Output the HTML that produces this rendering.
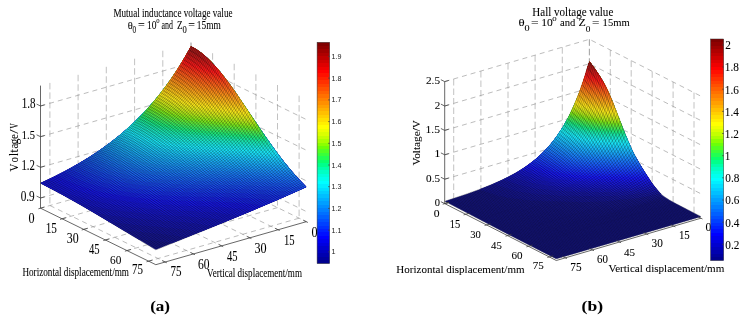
<!DOCTYPE html>
<html><head><meta charset="utf-8"><style>
html,body{margin:0;padding:0;background:#fff;width:748px;height:322px;overflow:hidden}
svg{display:block;will-change:transform}
.g{fill:none;stroke:#858585;stroke-width:0.55;stroke-dasharray:5 4}
.gv{fill:none;stroke:#8f8f8f;stroke-width:0.55;stroke-dasharray:6.5 3}
.ax{fill:none;stroke:#404040;stroke-width:0.8}
text{fill:#000;stroke:#000;stroke-width:0.06px}
</style></head><body>
<svg width="748" height="322" viewBox="0 0 748 322">
<rect width="748" height="322" fill="#fff"/>
<path class="g" d="M40.5 198L191 155L306.3 211.5M40.5 167.3L191 124.3L306.3 180.8M40.5 136.7L191 93.7L306.3 150.2M40.5 106L191 63L306.3 119.5M191 165.2L40.5 208.2M212.6 175.8L62.1 218.8M234.2 186.4L83.7 229.4M255.9 197L105.4 240M277.5 207.6L127 250.6M299.1 218.2L148.6 261.2M191 165.2L306.3 221.7M162.8 173.3L278.1 229.8M134.6 181.3L249.9 237.8M106.3 189.4L221.6 245.9M78.1 197.4L193.4 253.9M49.9 205.5L165.2 262"/><path class="gv" d="M191 42.6L191 165.2M162.8 50.7L162.8 173.3M134.6 58.7L134.6 181.3M106.3 66.8L106.3 189.4M78.1 74.8L78.1 197.4M49.9 82.9L49.9 205.5M191 42.6L191 165.2M212.6 53.2L212.6 175.8M234.2 63.8L234.2 186.4M255.9 74.4L255.9 197M277.5 85L277.5 207.6M299.1 95.6L299.1 218.2"/>
<path fill="#1a1a95" d="M191 46.4l3.5 1.8l3.4 2.2l3.5 2.6l4 3.3l3.5 3.2l4 4.1l7.5 8.6l7 8.9l7.5 10.4l28.8 42.7l13.3 18.6l6.9 9l7 8.5l7.5 8.5l7.5 7.7l.2 .5l-30.9 13.8l-36.1 15.3l-56.6 23l-26.3 10.5l-.7 0l-53.1-31.9l-19.6-11.6l-21.4-12l-20.8-10.9l15.5-7.5l11.3-5.8l11.3-6.4l11.3-6.8l10.6-7l9.8-7.1l9.8-7.8l9-7.8l9.1-8.6l8.2-8.7l8.3-9.4l7.6-9.4l7.5-10.3l7.5-11.2l6.8-11l6.8-12z"/>
<path fill="#1a1aa3" d="M172.1 243.5l-1.5-.7l-16.2-2.1l-13.4-1.3l-1.9 .6l0-.2l-32.3-19.4l-25-14.8l-20.2-11.4l-21-11.1l13.2-6.2l12.5-6.4l11.9-6.7l11.3-6.8l10.7-7.1l10.1-7.2l9.4-7.5l9.4-8.1l8.8-8.4l8.2-8.4l8.1-9.3l7.6-9.3l7.5-10.2l6.9-10.2l7.5-12.1l6.9-12.2l.6-.5l3.4 1.8l3.8 2.5l3.4 2.5l3.8 3.2l7.3 7.1l7.7 8.8l6.7 8.6l7.7 10.6l28.9 42.8l13.4 18.8l7.2 9.4l7.3 8.7l7.2 8.1l7.2 7.5l-2.3 1.1l-18.8 8.5l-32.7 14l-36.4 15.1l-43.9 17.7z"/>
<path fill="#1a1ab0" d="M186.2 237.8l-1.4-.7l-4.4-.7l-17.5-2.2l-36.4-3.5l-1.8 .6l0-.2l-21.7-13l-23.6-13.9l-18.3-10.2l-20.5-10.9l13.2-6.2l12.6-6.5l11.9-6.6l11.3-6.9l10.7-7l10.1-7.3l9.4-7.4l9.4-8.2l8.8-8.4l8.2-8.5l8.1-9.2l7.6-9.4l6.9-9.3l6.9-10.1l7.5-12.1l7.6-13.2l.5-.3l3.4 1.9l3.8 2.5l3.4 2.5l3.9 3.2l7.2 7.1l7.7 8.8l6.7 8.6l7.2 10l29.4 43.5l13 18.2l7.2 9.4l7.2 8.8l6.8 7.5l8 8.5l-23.9 10.7l-27.6 11.8l-31.4 13.1l-37.1 15z"/>
<path fill="#1a1abe" d="M200.1 232.3l-1.5-.8l-5.4-.9l-16.8-2.2l-44.6-4l-19.5-2.3l-1.9 .6l0-.2l-15.9-9.5l-20.7-12l-16.9-9.3l-16.3-8.5l14.9-7.2l11.9-6.1l12-6.7l10.7-6.5l10.6-7.1l10.1-7.3l9.4-7.5l8.8-7.7l8.8-8.3l8.2-8.5l8.2-9.2l7.5-9.4l7.6-10.2l6.9-10.2l6.3-10l8.1-14.2l.6-.6l3.4 1.8l3.8 2.5l3.4 2.5l3.8 3.2l7.3 7.1l7.7 8.8l6.7 8.6l7.2 10l29.4 43.5l13.5 18.8l7.2 9.4l7.2 8.7l7.3 8.1l7.2 7.5l-21.4 9.5l-24.5 10.6l-27.6 11.6l-32.7 13.3z"/>
<path fill="#1a1acc" d="M213.6 226.7l-1.4-.7l-3.6-.6l-15.2-2.1l-13.2-1.3l-46.3-3.7l-19.6-2.3l-17-2.8l-1.9 .5l0-.1l-10.1-6l-16.8-9.6l-14-7.6l-13.9-7.2l14.9-7.1l11.9-6.2l11.9-6.7l10.7-6.5l10.7-7.1l10-7.3l9.4-7.5l9.5-8.1l8.8-8.4l8.1-8.5l8.2-9.3l7.5-9.4l7.6-10.3l6.9-10.2l6.9-11.1l7.5-13.1l3.3 1.8l3.9 2.5l3.4 2.5l3.8 3.2l7.2 7l7.7 8.8l6.8 8.6l7.7 10.6l28.8 42.8l13.5 18.9l7.2 9.3l7.2 8.8l7.3 8.1l7.2 7.4l-.1 .4l-5.1 2.3l-29.5 13l-27 11.4l-30.8 12.7z"/>
<path fill="#1a1ad9" d="M226.9 221.3l-1.5-.7l-5.5-.9l-7.2-1l-8.6-.9l-13.7-1.1l-41.2-2.8l-23.4-2.3l-12-1.6l-11.6-1.9l-10.9-2.3l-11.2-2.7l-1.9 .5l-17.3-9.8l-20.2-10.5l.2-.3l15.7-7.5l11.3-5.9l12-6.7l10.6-6.5l10.7-7.2l10.1-7.3l9.4-7.5l8.8-7.7l8.8-8.4l8.8-9.1l8.1-9.4l7.6-9.5l7.5-10.3l6.9-10.3l6.9-11.2l6.9-12.1l3.4 1.8l3.9 2.5l3.3 2.5l3.9 3.2l7.2 7l7.7 8.8l6.7 8.6l7.7 10.6l28.9 42.7l13.5 18.9l7.2 9.4l7.2 8.8l7.2 8.1l7.2 7.4l0 .4l-28.3 12.6l-23.8 10.2l-27 11.2z"/>
<path fill="#1a1ae7" d="M239.7 216.1l-1.5-.7l-4.4-.7l-15.1-1.9l-13.9-1l-38-2l-18.7-1.3l-19.2-1.9l-17-2.4l-11.9-2.2l-12-2.7l-8.1-2.2l-8.6-2.5l-17.4-6l-1.9 .6l-11.4-6.1l13.2-6.2l12.5-6.4l12-6.7l11.3-6.8l10.6-7.1l10.1-7.3l9.4-7.4l9.5-8.2l8.7-8.3l8.2-8.5l8.2-9.3l7.5-9.3l6.9-9.3l6.9-10.2l7.6-12l7.5-13.2l.6-.4l3.3 1.9l3.9 2.4l3.4 2.5l3.8 3.3l7.2 7l7.7 8.9l6.8 8.6l7.2 10l29.4 43.4l13.4 18.9l7.3 9.3l7.2 8.8l6.7 7.5l7.7 8l-30.8 13.7l-35.8 15.1z"/>
<path fill="#1a1af5" d="M252 210.9l-1.4-.7l-10.6-1.4l-10.2-1l-15.2-1l-39.4-1.6l-19.3-1.1l-20-1.7l-18-2.4l-9.7-1.7l-9.6-2l-9.5-2.3l-8.8-2.5l-9.6-3.2l-8.8-3.3l-9.6-4.2l-2.9-1.4l0-.4l12.6-6.3l11.3-6l10.7-6.3l10.7-6.7l10-6.9l9.5-7.1l8.8-7.2l8.8-7.9l8.1-7.9l7.6-8l7.5-8.6l7.6-9.5l6.9-9.4l6.3-9.2l7.5-12.1l7.5-13.2l.6-.1l3.3 1.8l3.9 2.5l3.4 2.5l3.8 3.3l7.2 7l7.7 8.9l6.8 8.6l7.2 10l28.9 42.8l13.5 18.9l7.2 9.4l7.2 8.8l7.3 8.1l7.2 7.4l.1 .5l-13.2 5.9l-40.9 17.6z"/>
<path fill="#1a26f5" d="M263.9 205.9l-1.4-.7l-13.4-1.5l-9.8-.9l-16.5-.8l-39.8-1.2l-19.7-.8l-20.7-1.7l-18.5-2.2l-10.5-1.8l-9.8-1.9l-9.5-2.4l-9.2-2.6l-8.9-3.1l-8.1-3.3l-7.6-3.7l-3.2-1.8l0-.4l11.4-5.9l10.7-6l10-6.1l10.1-6.7l9.4-6.7l8.8-6.9l8.9-7.4l8.1-7.6l7.6-7.5l7.5-8.2l7.6-8.9l6.9-8.9l6.3-8.7l6.3-9.4l6.9-11.1l6.9-12.2l.6-.4l3.3 1.9l3.9 2.4l3.4 2.5l3.8 3.3l7.3 7.1l7.7 8.8l6.7 8.6l7.2 10l29.4 43.6l13.1 18.2l7.2 9.4l7.2 8.7l7.2 8.2l7.3 7.4l.1 .5l-6.3 2.8l-35.9 15.7z"/>
<path fill="#1a33f5" d="M275.3 201l-1.4-.7l-19.6-1.7l-12.9-.8l-16.5-.6l-40.1-.7l-21.2-.9l-17.2-1.4l-16.1-1.8l-10.6-1.7l-10.5-2.1l-9.5-2.3l-9.3-2.6l-8.3-3l-7.5-3.1l-6.8-3.7l-3.3-2.1l0-.4l10.7-5.8l10-5.9l9.5-6l9.4-6.5l8.8-6.5l8.2-6.6l8.1-7.1l7.6-7.2l7.5-7.7l6.9-7.6l6.9-8.3l7-8.9l6.2-8.8l5.7-8.4l6.9-11.2l6.9-12.2l.5-.1l3.4 1.8l3.9 2.5l3.3 2.5l3.9 3.2l7.2 7.1l7.7 8.9l6.8 8.6l7.2 10l29.4 43.5l13 18.2l7.2 9.4l6.7 8.2l6.3 7.1l8.6 9l.2 .4l-30.8 13.7z"/>
<path fill="#1a3ff5" d="M286.2 196.3l-1.4-.8l-6.7-.2l-21-1.4l-12.5-.6l-16.1-.4l-39-.5l-19.4-.7l-18-1.2l-16.3-1.8l-11-1.7l-10-1.9l-9.7-2.2l-9.2-2.7l-8.3-3l-7.3-3.2l-6.2-3.5l-3.1-2.2l0-.4l10.1-5.7l9.4-5.8l8.8-5.8l8.8-6.3l8.2-6.3l8.2-6.8l7.5-6.8l7.6-7.3l6.9-7.3l6.9-7.8l6.9-8.5l6.3-8.3l6.3-8.9l5.7-8.7l5.6-9.2l6.9-12l3.4 1.8l3.8 2.5l3.4 2.5l3.9 3.2l7.2 7.1l7.7 8.8l6.7 8.6l7.7 10.7l29 42.8l13.4 18.9l7.3 9.3l7.2 8.8l7.2 8.1l7.3 7.4l-20.1 9.1z"/>
<path fill="#1a4cf5" d="M296.6 191.7l-1.5-.7l-6 0l-7-.1l-37.3-1.8l-15.4-.3l-35.7-.4l-17.4-.5l-18.4-1l-16.1-1.7l-11-1.5l-10.8-2l-9.7-2.2l-8.8-2.5l-8.3-3l-6.9-3l-3.3-1.9l-3.1-1.9l-2.9-2.2l0-.4l9.4-5.6l8.8-5.7l8.8-6l8.2-6.1l7.5-6l7.6-6.5l7.5-7l6.9-6.9l7-7.4l6.3-7.3l6.2-7.8l5.7-7.5l5.7-8.1l5-7.6l6.9-11.2l6.3-11.2l.5-.2l3.4 1.9l3.9 2.5l3.3 2.5l3.9 3.2l7.2 7.1l7.7 8.9l6.8 8.6l7.2 10l28.9 42.8l13.5 19l7.2 9.3l7.3 8.8l7.2 8.1l7.2 7.5l0 .4l-9.4 4.3z"/>
<path fill="#1a59f5" d="M304.8 186.5l-8.1 .5l-8.8 0l-44.7-1.8l-58.2-.8l-19.8-.9l-17.3-1.6l-11.4-1.5l-10.9-1.9l-9.9-2.2l-8.9-2.5l-8.3-2.9l-6.8-3.1l-3.4-1.8l-3-2l-2.8-2.2l0-.4l8.8-5.5l8.1-5.4l8.2-5.8l7.5-5.8l7.6-6.2l6.9-6.1l6.9-6.5l6.9-7l6.3-6.9l6.3-7.3l6.3-7.9l5.6-7.6l5.7-8.2l5.7-8.7l5.6-9.3l5.7-10l.6-.7l3.3 1.8l3.9 2.5l3.4 2.5l3.8 3.2l7.2 7l7.7 8.8l6.8 8.7l7.7 10.6l28.9 42.8l13 18.2l7.2 9.4l6.7 8.3l6.8 7.6l7.2 7.6z"/>
<path fill="#1a65f5" d="M301.4 183.3l-7.1 .1l-8.4-.1l-31.1-1.4l-15-.5l-40.5-.4l-14.9-.4l-18.7-.9l-16.2-1.5l-10.7-1.5l-10.2-1.8l-9.3-2.1l-8.8-2.5l-7.8-2.8l-6.7-3.1l-3.3-1.9l-2.6-1.7l-2.5-2.1l0-.5l8.1-5.2l7.6-5.2l7.6-5.6l7.5-5.9l7-5.9l6.9-6.3l6.9-6.7l6.3-6.6l6.3-7l5.7-6.8l5.7-7.2l5.6-7.7l9.5-14l6.3-10.4l6.3-11.1l.5 0l3.4 1.8l3.8 2.5l3.4 2.6l3.9 3.2l3.8 3.6l3.9 4l7.7 9l6.8 8.7l7.2 10.1l27.5 40.8l12.6 17.7l6.7 8.9l6.3 7.9l6.3 7.3l6.7 7.3z"/>
<path fill="#1a72f5" d="M298.3 180.1l-13.8-.2l-42.5-1.9l-42.7-.6l-15.2-.4l-17.7-1l-15.6-1.5l-10.5-1.5l-9.5-1.7l-8.7-2l-8.2-2.4l-7.2-2.7l-6.3-3l-3.2-1.9l-2.6-1.7l-2.3-1.9l0-.5l7.6-5l7.5-5.4l7-5.3l6.9-5.6l6.9-6l6.3-5.9l6.3-6.2l6.3-6.7l6.3-7.1l5.7-6.9l5.7-7.4l5-6.9l5-7.4l5.1-7.9l5.6-9.4l5.1-9l.6-.6l3.3 1.8l3.9 2.5l3.4 2.5l3.8 3.2l3.9 3.6l3.9 4l7.7 8.9l6.7 8.7l7.8 10.7l27 40.1l11.6 16.5l6.2 8.4l5.8 7.3l6.3 7.5l5.8 6.5z"/>
<path fill="#1a7ef5" d="M295.4 177l-11.9-.3l-40.3-1.9l-44.3-.8l-15-.5l-16.2-1l-15.2-1.5l-9.8-1.4l-9.4-1.8l-8.5-2l-7.6-2.3l-7.2-2.7l-5.8-2.9l-5.4-3.4l-2-1.7l0-.5l7.5-5.3l6.9-5.1l7-5.4l6.3-5.3l6.3-5.6l6.3-6l6.3-6.5l5.6-6.1l5.7-6.6l5-6.2l5.7-7.4l5-7l9.5-14.3l5.7-9.4l5-9l.6-.6l3.3 1.8l3.9 2.5l3.4 2.5l3.8 3.2l3.9 3.6l3.9 4l8.2 9.5l6.7 8.7l7.3 10.1l26.5 39.4l11.1 15.8l11.1 14.7l5.8 7l5.3 6.2z"/>
<path fill="#1a8bf5" d="M292.6 174l-48.8-2.3l-44.8-1.1l-14.2-.5l-15.8-1l-14.3-1.5l-9.7-1.4l-8.8-1.7l-8-1.9l-7.6-2.3l-6.7-2.6l-5.7-2.8l-5.5-3.5l-1.7-1.4l0-.6l6.9-4.9l6.9-5.3l6.3-5.1l6.3-5.5l6.3-5.8l5.6-5.5l5.7-5.9l5.6-6.2l10.1-12.2l10.1-13.6l5-7.5l5-7.9l5.1-8.5l5-8.9l.5 0l3.4 1.8l3.8 2.5l3.4 2.6l3.9 3.2l3.8 3.6l3.9 4l8.2 9.6l6.7 8.7l7.2 10.1l26.1 38.6l10.1 14.5l10.6 14.2l10.1 12.3z"/>
<path fill="#1a98f5" d="M290 171.1l-46.1-2.5l-44.1-1.2l-14.6-.6l-15-1l-13.5-1.5l-9-1.3l-8.8-1.7l-7.9-2l-7.1-2.1l-6.6-2.6l-5.4-2.7l-3.2-1.8l-2.5-1.8l-1.3-1.1l0-.6l6.9-5.1l6.3-5l12-10.3l11.3-11l10.7-11.7l10.1-12.4l5-6.8l5.1-7.1l8.8-13.6l10-17.2l3.4 1.9l3.9 2.4l3.3 2.5l3.9 3.3l3.8 3.6l3.9 3.9l8.2 9.5l6.8 8.8l7.7 10.7l25.1 37.3l10.1 14.5l9.6 13.1l9.2 11.4z"/>
<path fill="#1aa4f5" d="M287.5 168.3l-43.3-2.6l-44.8-1.5l-13.5-.7l-14.8-1l-12.6-1.5l-8.9-1.3l-8.1-1.6l-7.4-1.8l-7-2.2l-6.3-2.4l-5.4-2.7l-2.9-1.7l-2.8-1.9l-1.1-.9l0-.6l12.6-10l11.4-10l10.7-10.7l10.7-11.9l9.4-11.8l9.4-13.2l8.9-13.7l9.4-16.2l3.3 1.8l3.9 2.5l3.9 2.9l3.8 3.2l3.9 3.7l3.8 4l8.2 9.6l6.8 8.7l7.2 10.2l25.1 37.2l9.2 13.2l8.6 11.8l8.7 11.1z"/>
<path fill="#1ab1f5" d="M285.1 165.5l-41.2-2.7l-56.7-2.4l-14.6-1.1l-12.5-1.5l-8.2-1.3l-8-1.6l-7.3-1.8l-6.6-2l-6.2-2.5l-5.4-2.6l-3.1-1.9l-2.8-2l-.3-.2l0-.7l12-9.8l10.7-9.7l10.7-10.9l10.1-11.6l9.4-12l8.9-12.5l8.8-13.9l8.2-14.4l3.4 1.8l3.8 2.4l3.9 2.9l3.9 3.3l3.8 3.6l3.9 4l8.2 9.6l6.7 8.8l7.8 10.8l24.1 35.9l9.2 13.2l7.7 10.7l7.7 9.9z"/>
<path fill="#1abdf5" d="M282.9 162.8l-39.1-2.8l-55.5-2.6l-14.4-1.2l-12.3-1.5l-8.1-1.4l-7.4-1.5l-6.8-1.7l-6.5-2l-5.8-2.3l-5.4-2.6l-3.2-1.9l-2.8-2l0-.7l10.7-9l10.7-10l10.1-10.5l9.4-10.9l8.8-11.3l8.9-12.5l7.5-11.9l8.9-15.3l.5-.8l3.4 1.9l3.9 2.5l3.4 2.5l3.8 3.2l3.9 3.6l3.8 4l8.3 9.5l5.7 7.4l6.8 9.4l32.3 47.7l8.7 12.2l7.8 10.2z"/>
<path fill="#1acaf5" d="M280.7 160.1l-36.9-2.8l-54.6-2.9l-13.5-1.2l-12.2-1.5l-8-1.4l-7.3-1.5l-6.7-1.8l-6-1.9l-5.8-2.2l-5.4-2.7l-5.5-3.4l0-.8l10.7-9.3l10.1-9.7l9.5-10.1l8.8-10.4l8.2-10.6l8.2-11.7l8.2-13l8.2-14.3l.6-.4l3.3 1.8l3.9 2.5l3.4 2.6l3.9 3.2l3.8 3.6l3.9 4l8.2 9.6l6.3 8.1l6.7 9.4l30.5 45l8.2 11.6l7.3 9.7z"/>
<path fill="#1ad7f5" d="M278.5 157.4l-35.5-2.8l-52.2-3.1l-13.4-1.3l-12.1-1.5l-7.4-1.3l-7.3-1.5l-6.6-1.8l-6-1.9l-5.8-2.2l-5.4-2.7l-4.9-3.1l0-.8l10.1-9l9.4-9.2l8.8-9.6l8.9-10.5l8.1-10.8l8.2-11.8l7-11l8.2-14.3l.5-.7l3.4 1.8l3.9 2.5l3.4 2.5l3.8 3.2l3.9 3.6l3.9 4l8.2 9.5l6.2 8.1l7.3 10.1l29.4 43.6l7.3 10.3l6.7 9.1z"/>
<path fill="#1ae3f5" d="M276.5 154.8l-33.3-2.8l-51.1-3.4l-13.2-1.3l-12-1.6l-7.2-1.2l-7.3-1.6l-6.1-1.6l-6-1.9l-5.7-2.3l-5.4-2.7l-4.4-2.6l0-.9l9.5-8.6l9.4-9.5l8.9-9.8l8.1-10l8.2-11l7.6-11.2l7.6-12.2l6.9-12.2l3.4 1.8l3.8 2.5l3.4 2.5l3.9 3.2l3.9 3.6l3.8 3.9l8.2 9.5l6.8 8.8l7.2 10l28 41.6l13.1 18.3z"/>
<path fill="#1ae3e6" d="M274.5 152.1l-31.8-2.7l-49.4-3.6l-13-1.3l-11.9-1.7l-7.2-1.3l-6.6-1.4l-6.1-1.6l-5.9-2l-5.8-2.2l-5.4-2.7l-3.8-2.3l0-.9l8.9-8.3l8.8-9l8.2-9.3l7.6-9.3l7.6-10.2l6.9-10.1l7.6-12.1l7.6-13.3l.5-.3l3.4 1.9l3.9 2.5l3.3 2.5l3.9 3.3l3.9 3.6l3.8 4l7.8 8.9l6.7 8.8l7.3 10.1l27.6 40.8l11.6 16.5z"/>
<path fill="#1ae3d5" d="M272.5 149.6l-29.3-2.8l-48.9-3.8l-12.8-1.3l-11.1-1.6l-7.1-1.3l-6.6-1.5l-6.1-1.6l-5.5-1.8l-5.8-2.3l-5.4-2.6l-3.5-2.1l0-1l8.8-8.5l8.2-8.6l7.5-8.7l7.6-9.4l6.9-9.4l6.3-9.3l7.6-12.1l7.6-13.3l.5 0l3.4 1.8l3.8 2.5l3.4 2.6l3.9 3.2l3.8 3.7l3.9 3.9l7.7 9l6.8 8.7l7.7 10.8l26.1 38.7l10.6 15.2z"/>
<path fill="#1ae3c2" d="M270.6 147l-27.8-2.7l-46.9-3.9l-12.6-1.4l-11.6-1.7l-6.5-1.2l-6.6-1.5l-6-1.7l-5.5-1.7l-5.8-2.3l-5.4-2.6l-2.9-1.7l0-1.1l8.2-8.1l7.5-8.1l7.6-8.8l7.5-9.6l7-9.6l6.9-10.3l6.9-11.4l6.3-11.1l3 1.4l3.8 2.4l3.9 2.8l3.8 3.2l3.9 3.6l3.9 4l7.7 8.9l7.2 9.3l7.7 10.8l25.1 37.2l9.7 13.9z"/>
<path fill="#1ae3ac" d="M268.7 144.5l-25.3-2.6l-46-4.1l-13.2-1.6l-10.8-1.6l-7-1.4l-6.5-1.5l-5.5-1.5l-5.4-1.8l-6.2-2.4l-5.4-2.7l-1.9-1.1l0-1.1l7.6-7.6l7.5-8.3l7.6-9l6.9-9l7-9.7l6.3-9.6l6.3-10.3l6.3-11.2l2.9 1.5l3.8 2.4l3.4 2.5l3.9 3.1l3.8 3.6l3.9 3.9l7.7 8.8l7.3 9.3l7.7 10.7l33.3 49.2z"/>
<path fill="#1ae391" d="M266.9 141.9l-23.7-2.5l-45.1-4.3l-13-1.6l-10.7-1.7l-12.8-2.7l-5.4-1.6l-5.5-1.8l-6.1-2.4l-5.4-2.7l-1.3-.7l0-1.2l7.6-7.8l6.9-7.8l7-8.4l6.9-9.1l6.3-9l6.4-9.6l6.3-10.4l5.7-10.1l2.9 1.4l3.8 2.4l3.4 2.5l3.9 3.1l3.9 3.6l3.8 3.9l7.8 8.9l7.2 9.3l7.8 10.7l31.4 46.5z"/>
<path fill="#20e375" d="M265.1 139.4l-65.1-6.7l-12.8-1.7l-11.3-1.8l-12.7-2.8l-5.4-1.5l-5.4-1.8l-6.1-2.5l-5.7-2.8l-.3-.2l0-1.2l6.9-7.4l6.9-7.9l6.3-7.7l6.3-8.4l5.7-8l5.7-8.6l6.3-10.3l6.3-11.1l.5-.5l3.4 1.8l3.4 2.2l3.4 2.5l3.8 3.1l7.3 7l7.7 8.8l7.2 9.3l7.8 10.7l29.9 44.3z"/>
<path fill="#36e360" d="M263.3 136.9l-62.2-6.7l-12.7-1.7l-11.1-1.9l-12.6-2.8l-10.3-3.2l-6.1-2.4l-5.8-2.9l0-1.3l7-7.5l6.3-7.4l6.3-7.9l5.7-7.7l5.7-8.1l5.7-8.8l5.7-9.4l5.7-10l.6-.7l3.3 1.8l3.4 2.2l3.4 2.4l3.9 3.2l7.3 7l7.2 8.3l7.3 9.2l8.2 11.4l28.1 41.6z"/>
<path fill="#4be34b" d="M261.6 134.4l-59.4-6.7l-12.6-1.7l-10.9-1.9l-12-2.8l-5.4-1.5l-5.4-1.8l-5.7-2.3l-5.5-2.6l0-1.4l6.3-7l5.7-6.7l5.7-7.2l5.7-7.7l5.1-7.2l5-7.7l6.3-10.4l6.4-11.1l.5-.1l3.4 1.8l3.4 2.2l3.3 2.5l3.4 2.8l7.3 7l7.3 8.1l7.2 9.2l8.2 11.4l26.7 39.4z"/>
<path fill="#60e336" d="M259.9 132l-56.8-6.8l-12.4-1.7l-10.8-2l-12.4-2.9l-10.2-3.2l-5.3-2.1l-5.2-2.5l0-1.4l6.4-7.2l5.7-6.8l5.6-7.4l5.7-7.9l5.1-7.4l5-7.9l10.8-18.4l3.4 1.8l3.4 2.2l3.3 2.5l3.4 2.7l7.3 6.9l7.3 8.2l7.2 9.1l7.8 10.7l8.2 11.9l17.5 26.1z"/>
<path fill="#75e320" d="M258.1 129.5l-53.5-6.6l-12.8-1.9l-10.8-2l-12.3-2.9l-10.1-3.3l-4.9-1.9l-4.8-2.3l0-1.5l5.7-6.5l5.1-6.3l5.7-7.4l5-7l9.5-14.4l5.7-9.5l5.1-9l.5-.5l3.4 1.8l3.4 2.2l3.4 2.5l3.4 2.8l6.8 6.4l7.3 8.1l7.2 9.2l7.8 10.6l8.2 11.9l16 24z"/>
<path fill="#91e31a" d="M256.4 127l-51-6.5l-12.7-2l-10.6-2l-12.2-2.9l-10.1-3.3l-4.4-1.8l-4.5-2.1l0-1.5l10.1-12.2l5-6.7l5.1-7.1l8.8-13.4l5.7-9.5l5-9l.6-.5l6.3 3.6l3.4 2.5l3.4 2.7l6.7 6.3l7.3 8l7.2 9l7.8 10.6l8.7 12.6l14.4 21.6z"/>
<path fill="#ace31a" d="M254.8 124.6l-48.7-6.5l-12.5-2l-10.5-2l-12.1-3l-10-3.3l-8.2-3.5l0-1.7l9.5-11.7l9.5-13l8.2-12.6l5.7-9.5l5.1-9l.5-.3l6.3 3.7l3.4 2.5l3.4 2.7l6.8 6.4l6.8 7.4l7.2 9l7.8 10.6l8.2 11.9l13.6 20.2z"/>
<path fill="#c2e31a" d="M253.1 122.2l-46.4-6.5l-12.3-2l-10.4-2.1l-11.9-3l-10-3.3l-7.4-3.2l0-1.7l9.5-11.9l8.8-12.4l7.6-11.7l5-8.4l5.1-9l.5-.5l6.3 3.7l6.3 4.7l6.8 6.3l6.7 7.3l6.8 8.3l7.7 10.4l8.7 12.5l12.6 18.7z"/>
<path fill="#d5e31a" d="M251.4 119.7l-43.5-6.2l-12.8-2.2l-10.3-2.1l-11.8-3.1l-9.8-3.3l-6.7-2.9l0-1.7l8.9-11.4l8.2-11.6l8.9-14l8.2-14.3l.6-.4l6.3 3.7l6.3 4.8l6.3 5.8l6.8 7.3l6.8 8.3l7.7 10.4l8.3 11.8l11.6 17.3z"/>
<path fill="#e6e31a" d="M249.8 117.3l-41.3-6.2l-12.7-2.2l-10.1-2.1l-11.7-3.1l-9.8-3.4l-5.9-2.5l0-1.8l8.3-10.7l8.2-11.8l6.9-11l8.9-15.3l.6-.7l5.8 3.3l6.3 4.7l6.3 5.7l6.8 7.2l6.7 8.2l7.3 9.6l8.2 11.7l11.2 16.5z"/>
<path fill="#f5e31a" d="M248.1 114.8l-39.2-6l-11.9-2.1l-10.6-2.3l-11.6-3.2l-10-3.5l-4.7-2l0-1.9l8.2-10.9l7.6-11.1l7.5-12.1l7.6-13.3l5.8 3.3l6.3 4.6l6.3 5.7l6.8 7.2l6.3 7.5l7.2 9.6l8.3 11.6l10.1 15.1z"/>
<path fill="#f5d71a" d="M246.5 112.4l-37.1-5.9l-11.8-2.2l-10.5-2.3l-11.4-3.2l-10-3.5l-3.9-1.7l0-1.9l6.9-9.4l6.9-10.2l7.6-12.1l7.6-13.2l.5-.3l5.8 3.4l5.8 4.3l6.3 5.6l6.3 6.6l6.3 7.5l7.3 9.4l7.7 10.9l9.7 14.3z"/>
<path fill="#f5ca1a" d="M244.8 110l-35.6-5.9l-11.7-2.3l-10.3-2.3l-11.2-3.2l-9.9-3.6l-2.7-1.2l0-2l7-9.6l6.3-9.5l7-11.2l7-12.3l.6-.4l5.8 3.4l5.9 4.3l5.8 5.2l6.3 6.6l6.3 7.4l6.9 8.9l7.3 10.1l9.2 13.6z"/>
<path fill="#f5bd1a" d="M243.1 107.5l-33.6-5.7l-11.5-2.3l-10.1-2.4l-11.2-3.2l-10.1-3.8l-1.6-.7l0-2l7-9.8l6.4-9.7l5.7-9.3l7-12.2l5.8 3.4l5.8 4.2l5.9 5.2l5.8 6l6.3 7.4l6.4 8.1l7.3 10l8.7 12.8z"/>
<path fill="#f5b11a" d="M241.5 105.1l-32.2-5.7l-11.4-2.3l-9.5-2.3l-11.4-3.5l-10-3.8l-.4-.2l0-2.1l5.7-8.1l5.7-8.7l6.4-10.3l6.4-11.3l.5-.3l5.4 3.1l5.8 4.2l5.8 5.2l5.9 6l5.8 6.7l6.4 8l6.8 9.4l8.3 11.9z"/>
<path fill="#f5a41a" d="M239.8 102.6l-30.2-5.4l-11.2-2.4l-9.4-2.4l-10.9-3.3l-10-3.9l0-2.1l5.1-7.3l5-7.7l6.4-10.3l6.3-11.2l.5 0l5.3 3l5.8 4.3l5.3 4.6l5.8 5.9l5.9 6.6l6.2 7.9l6.8 9.2l7.3 10.5z"/>
<path fill="#f5981a" d="M238.1 100.2l-29.4-5.5l-10.4-2.4l-9.3-2.3l-10.3-3.3l-9.1-3.5l0-2.2l5.7-8.4l5.1-7.9l10.7-18.3l5.3 3l5.3 3.9l5.4 4.5l5.3 5.3l5.8 6.5l5.8 7.1l6.8 9.1l7.3 10.3z"/>
<path fill="#f58b1a" d="M236.4 97.7l-27.4-5.3l-10.4-2.4l-9.1-2.4l-9.7-3.1l-8.7-3.4l0-2.2l8.9-13.5l5.6-9.5l5.1-9l.6-.4l4.8 2.8l5.3 3.7l5.4 4.5l5.3 5.3l5.3 5.9l5.9 7l6.3 8.3l6.8 9.6z"/>
<path fill="#f57e1a" d="M234.6 95.2l-15.2-2.9l-11.3-2.4l-9.6-2.3l-9-2.4l-9.2-3l-7.8-3.1l0-2.3l9.5-14.8l8.9-15.4l.5 0l4.9 2.7l4.8 3.5l4.9 4l5.3 5.1l5.4 5.8l5.3 6.4l5.8 7.6l6.8 9.4z"/>
<path fill="#f5721a" d="M232.8 92.7l-25-5.2l-10-2.4l-8.4-2.4l-8.1-2.7l-7.4-2.9l0-2.4l8.3-12.9l8.8-15.4l4.9 2.7l4.9 3.4l4.8 4l4.9 4.6l5.3 5.7l5.4 6.3l5.8 7.5l5.8 8z"/>
<path fill="#f5651a" d="M231 90.2l-13.2-2.7l-10.9-2.5l-9.3-2.3l-8.2-2.4l-7.6-2.6l-6.5-2.6l0-2.4l7-11.1l8.2-14.4l.6-.8l4.4 2.5l4.9 3.3l4.8 4l4.9 4.5l4.9 5.2l4.8 5.6l5.4 6.7l5.8 7.9z"/>
<path fill="#f5591a" d="M229.2 87.7l-12.4-2.6l-10.2-2.4l-9.2-2.4l-8.1-2.5l-6.6-2.3l-6-2.5l0-2.4l6.9-11.3l7-12.2l.6-.6l4.4 2.4l4.4 3l4.4 3.5l4.8 4.4l4.9 5.1l4.9 5.5l4.8 6.1l5.4 7z"/>
<path fill="#f54c1a" d="M227.3 85.1l-11.5-2.5l-10.1-2.4l-8.5-2.4l-7.9-2.4l-6.1-2.2l-5.2-2.2l0-2.5l6.3-10.3l6.4-11.2l.5-.5l3.9 2.2l4.4 2.9l4.4 3.4l4.4 4l4.4 4.4l4.9 5.4l4.8 5.9l4.9 6.3z"/>
<path fill="#f53f1a" d="M225.3 82.5l-10.5-2.4l-9.9-2.4l-8.3-2.4l-7.4-2.4l-9.9-3.9l0-2.5l5.7-9.4l5.7-10.2l.6-.4l3.9 2.2l3.9 2.5l3.8 3l4.4 3.8l4.4 4.4l4.4 4.7l4.4 5.2l4.8 6.1z"/>
<path fill="#f5331a" d="M223.3 79.9l-19.2-4.8l-8.2-2.4l-7.2-2.4l-8.2-3.2l0-2.6l5.1-8.5l5.1-9l.5-.5l3.9 2.1l3.9 2.6l3.9 3l3.9 3.4l3.9 3.7l3.9 4.1l4.4 5l4.3 5.4z"/>
<path fill="#f5261a" d="M221.2 77.3l-9.9-2.5l-8.5-2.3l-7.5-2.3l-7.1-2.5l-6.4-2.6l0-2.7l8.9-15.5l.6-.4l3.4 1.9l3.5 2.2l3.4 2.5l3.9 3.3l4 3.7l3.9 4l7.8 9.1z"/>
<path fill="#f51a1a" d="M219 74.6l-9.1-2.4l-8.4-2.4l-7.3-2.3l-6.4-2.4l-4.8-2l0-2.7l7.6-13.3l.6-.6l3.4 1.8l3.4 2.2l3.5 2.5l3.4 2.8l6.8 6.6l7.3 8.1z"/>
<path fill="#e71a1a" d="M216.7 71.8l-8.7-2.4l-7.7-2.3l-6.7-2.2l-6.3-2.4l-3.1-1.4l0-2.7l6.4-11.3l.6-.6l5.9 3.4l6.4 4.7l6.3 5.8l6.9 7.4z"/>
<path fill="#d91a1a" d="M214.2 68.9l-8.1-2.2l-7.4-2.4l-6.5-2.3l-6.1-2.5l-.7-.3l0-2.8l5.7-10l5.4 3.1l5.9 4.3l5.9 5.2l5.9 6z"/>
<path fill="#cc1a1a" d="M211.5 66l-13.5-4.2l-5.9-2.3l-5.6-2.3l0-2.8l4.6-8l4.9 2.8l5 3.5l5 4.1l5.5 5.3z"/>
<path fill="#be1a1a" d="M208.5 62.9l-11.1-3.7l-9.8-3.9l0-2.9l3.3-5.9l.5 .1l4 2.2l4.6 3.1l4 3.2l4.5 4z"/>
<path fill="#b01a1a" d="M204.9 59.5l-8.6-3l-7.5-3.2l0-2.8l1.9-3.6l.6-.4l3 1.7l3.6 2.2l3.5 2.6l3.5 2.9z"/>
<path fill="#a31a1a" d="M200.5 55.7l-10.6-4.3l0-2.9l1.3-2l4.6 2.6l4.7 3.2z"/>
<path fill="#951a1a" d="M192.4 50.1l-1.5-.7l0-2.9l.2-.1l1.3 .7z"/>
<path fill="none" stroke="#000" stroke-opacity="0.5" stroke-width="0.5" d="M191 46.4l-6.6 11.6l-6.6 10.8l-7.5 11.2l-7.5 10.3l-7.5 9.5l-8.5 9.7l-8.5 8.8l-9.4 8.9l-9.4 8.2l-9.4 7.4l-10.3 7.5l-10.4 6.8l-11.3 6.8l-11.3 6.3l-13.1 6.7l-13.2 6.3M192.4 47.1l-6.5 11.7l-6.6 10.8l-7.6 11.2l-7.5 10.3l-7.5 9.4l-8.5 9.6l-8.4 8.8l-8.5 8l-9.4 8.2l-9.4 7.5l-10.4 7.5l-10.3 6.9l-11.3 6.9l-12.2 6.9l-13.2 6.8l-13.2 6.3M193.9 47.9l-6.6 11.8l-6.6 10.8l-7.5 11.2l-7.5 10.2l-7.6 9.3l-8.4 9.6l-8.5 8.7l-8.5 8l-9.4 8.2l-9.4 7.4l-10.3 7.5l-10.4 6.9l-11.3 7l-12.2 6.9l-13.1 6.9l-13.2 6.3M195.3 48.8l-6.6 11.8l-6.5 10.8l-6.6 9.8l-7.6 10.3l-7.5 9.4l-8.4 9.6l-8.5 8.8l-8.5 8l-9.4 8.2l-9.4 7.5l-10.3 7.5l-11.3 7.6l-11.3 7l-12.2 6.9l-13.2 6.9l-13.2 6.5M196.8 49.7l-5.7 10.2l-6.6 11l-6.5 9.9l-7.6 10.4l-7.5 9.4l-8.5 9.7l-8.4 8.8l-8.5 8l-9.4 8.2l-9.4 7.5l-10.4 7.6l-11.2 7.7l-11.3 7l-12.3 7.1l-13.1 7l-14.1 6.9M198.2 50.6l-5.6 10.3l-6.6 11l-6.6 9.9l-7.5 10.4l-7.6 9.3l-8.4 9.6l-8.5 8.7l-8.5 8l-9.4 8.1l-9.4 7.5l-10.3 7.6l-11.3 7.7l-11.3 7l-12.2 7.1l-13.2 7l-14.1 7.1M199.6 51.7l-5.6 10.3l-6.6 10.9l-6.6 10l-7.5 10.2l-7.5 9.4l-7.5 8.5l-8.5 8.7l-8.5 8l-9.4 8.1l-10.3 8.3l-10.4 7.6l-11.3 7.6l-12.2 7.6l-12.2 7.1l-13.2 7l-13.2 6.6M201.1 52.7l-5.7 10.4l-6.5 10.9l-6.6 9.9l-7.5 10.3l-7.6 9.2l-7.5 8.4l-8.5 8.7l-8.4 8l-9.4 8.1l-10.4 8.2l-10.3 7.5l-11.3 7.7l-12.2 7.6l-12.3 7.1l-13.1 7.1l-13.2 6.6M202.5 53.9l-5.6 10.3l-6.6 11l-6.6 9.8l-6.6 9l-7.5 9.3l-7.5 8.5l-8.5 8.7l-8.4 7.9l-9.5 8.1l-10.3 8.2l-10.3 7.6l-11.3 7.7l-12.3 7.7l-12.2 7.1l-13.2 7.2l-14.1 7.1M204 55.1l-5.7 10.3l-6.6 11l-6.5 9.8l-6.6 8.9l-7.6 9.3l-7.5 8.3l-8.4 8.7l-8.5 7.8l-9.4 8.1l-10.4 8.2l-11.2 8.2l-11.3 7.6l-12.3 7.7l-12.2 7.1l-13.2 7.1l-13.1 6.7M205.4 56.3l-5.6 10.4l-5.7 9.4l-6.6 10l-6.5 9l-7.6 9.2l-7.5 8.5l-8.5 8.6l-8.4 7.9l-9.4 8l-10.4 8.2l-11.3 8.3l-11.3 7.6l-12.2 7.7l-12.2 7.2l-13.2 7.1l-14.1 7.2M206.9 57.6l-5.7 10.4l-5.6 9.4l-6.6 9.9l-6.6 8.9l-7.5 9.3l-7.6 8.3l-8.4 8.6l-8.5 7.8l-9.4 8l-10.3 8.1l-11.3 8.2l-11.3 7.6l-12.2 7.7l-12.3 7.2l-13.1 7.2l-14.1 7.2M208.3 59l-5.6 10.3l-5.7 9.4l-6.6 9.9l-6.6 8.9l-6.5 8l-7.6 8.4l-8.4 8.6l-8.5 7.8l-10.3 8.8l-10.4 8l-11.3 8.2l-11.3 7.6l-12.2 7.7l-12.2 7.1l-13.2 7.2l-14.1 7.3M209.7 60.4l-5.6 10.3l-5.7 9.4l-6.5 9.8l-6.6 8.8l-6.6 8l-7.5 8.3l-8.5 8.5l-8.5 7.8l-10.3 8.6l-10.4 8.1l-11.2 8.1l-11.3 7.6l-12.3 7.6l-12.2 7.2l-13.2 7.2l-14.1 7.3M211.2 61.8l-5.7 10.4l-5.6 9.3l-5.7 8.5l-6.5 8.8l-6.6 8.1l-7.5 8.3l-8.5 8.5l-8.5 7.7l-9.4 8l-10.3 8l-11.3 8.2l-12.2 8.2l-12.3 7.7l-13.1 7.7l-13.2 7.3l-14.1 7.2M212.6 63.3l-5.6 10.4l-5.7 9.3l-5.6 8.4l-6.6 8.8l-6.6 7.9l-7.5 8.3l-8.5 8.4l-8.4 7.7l-9.4 7.8l-10.4 8l-11.3 8.1l-12.2 8.2l-12.2 7.7l-13.2 7.7l-13.2 7.2l-14.1 7.3M214.1 64.8l-5.7 10.4l-5.6 9.3l-5.7 8.3l-6.6 8.8l-6.5 7.9l-7.6 8.1l-7.5 7.4l-8.5 7.7l-10.3 8.6l-10.3 7.9l-11.3 8.1l-12.3 8.2l-12.2 7.6l-13.2 7.7l-13.1 7.2l-14.1 7.3M215.5 66.4l-5.6 10.4l-5.7 9.2l-5.6 8.3l-6.6 8.7l-6.6 7.8l-7.5 8.1l-7.5 7.3l-8.5 7.6l-10.4 8.5l-10.3 7.9l-11.3 8l-12.2 8.1l-12.3 7.6l-13.1 7.7l-13.2 7.2l-14.1 7.3M216.9 68.1l-4.7 8.6l-5.6 9.4l-5.6 8.4l-6.6 8.7l-6.6 7.9l-7.5 8.1l-7.6 7.4l-8.4 7.5l-10.4 8.5l-10.3 7.9l-11.3 8l-12.2 8.1l-12.3 7.6l-13.1 7.7l-14.1 7.7l-14.2 7.3M218.4 69.8l-4.7 8.6l-5.7 9.3l-5.6 8.3l-6.6 8.7l-6.6 7.8l-7.5 8l-7.5 7.3l-8.5 7.5l-9.4 7.7l-11.3 8.5l-11.3 7.9l-12.2 8.1l-12.2 7.5l-13.2 7.7l-14.1 7.7l-14.1 7.3M219.8 71.5l-4.7 8.6l-5.6 9.2l-5.7 8.3l-6.6 8.6l-6.5 7.7l-6.6 7l-7.5 7.3l-8.5 7.5l-9.4 7.6l-11.3 8.5l-12.2 8.6l-12.3 8l-12.2 7.5l-13.2 7.7l-14.1 7.6l-14.1 7.3M221.3 73.2l-4.7 8.6l-5.7 9.2l-5.6 8.2l-6.6 8.6l-6.6 7.6l-6.6 6.9l-7.5 7.2l-8.5 7.4l-9.4 7.5l-11.3 8.4l-12.2 8.5l-12.2 8l-12.2 7.5l-13.2 7.6l-14.1 7.7l-14.1 7.2M222.7 75l-4.7 8.5l-5.6 9.2l-5.7 8.1l-5.6 7.4l-6.6 7.6l-6.6 7l-7.5 7.2l-8.5 7.3l-9.4 7.6l-11.3 8.3l-12.2 8.5l-12.2 7.9l-13.2 8.1l-13.2 7.6l-14.1 7.6l-14.1 7.2M224.1 76.9l-4.7 8.4l-5.6 9.1l-5.6 8.1l-5.7 7.3l-6.6 7.6l-6.6 6.8l-7.5 7.1l-8.4 7.3l-9.5 7.4l-11.2 8.3l-12.3 8.4l-12.2 7.9l-13.2 8l-13.1 7.5l-14.1 7.6l-14.2 7.2M225.6 78.7l-4.7 8.5l-5.7 9l-5.6 8l-5.6 7.2l-6.6 7.5l-6.6 6.8l-7.5 7l-8.5 7.2l-9.4 7.3l-11.3 8.2l-12.2 8.3l-12.3 7.8l-13.1 8l-13.2 7.5l-14.1 7.6l-14.1 7.1M227 80.6l-4.7 8.4l-5.6 9l-5.7 7.9l-5.6 7.1l-6.6 7.5l-6.6 6.6l-7.5 7l-7.5 6.3l-9.4 7.4l-11.3 8.1l-12.2 8.2l-13.2 8.4l-13.2 7.9l-13.1 7.5l-14.2 7.5l-14.1 7.2M228.5 82.6l-4.7 8.3l-5.7 8.9l-5.6 7.8l-5.7 7.1l-6.5 7.3l-6.6 6.6l-7.6 6.9l-7.5 6.3l-9.4 7.2l-11.3 8l-12.2 8.2l-13.2 8.3l-13.1 7.8l-13.2 7.5l-14.1 7.5l-14.1 7.1M229.9 84.5l-4.7 8.3l-4.7 7.4l-5.6 8l-5.7 7l-6.6 7.4l-6.5 6.7l-7.6 6.8l-7.5 6.2l-9.4 7.3l-11.3 8l-12.2 8.1l-13.2 8.2l-13.2 7.8l-14.1 8l-14.1 7.4l-14.1 7.1M231.4 86.5l-4.7 8.2l-4.8 7.4l-5.6 7.8l-5.6 7.1l-6.6 7.3l-6.6 6.5l-7.5 6.7l-7.6 6.2l-9.4 7.1l-11.3 7.9l-12.2 8.1l-13.1 8.2l-13.2 7.7l-14.1 7.9l-14.1 7.4l-14.1 7M232.8 88.5l-4.7 8.2l-4.7 7.2l-5.7 7.8l-5.6 7l-6.6 7.2l-6.6 6.4l-7.5 6.7l-7.5 6.1l-9.4 7l-11.3 7.8l-12.2 8l-13.2 8.1l-13.2 7.7l-14.1 7.8l-14.1 7.4l-14.1 7M234.2 90.6l-4.7 8l-4.7 7.2l-5.6 7.8l-5.7 6.8l-5.6 6.2l-6.6 6.4l-7.5 6.7l-7.5 6.1l-9.4 6.9l-11.3 7.8l-12.3 7.9l-14.1 8.6l-13.1 7.6l-14.1 7.8l-14.2 7.3l-14.1 7M235.7 92.6l-4.7 8l-4.7 7.1l-5.7 7.7l-5.6 6.8l-5.7 6l-6.5 6.4l-7.6 6.6l-7.5 6l-9.4 6.9l-11.3 7.6l-12.2 7.8l-14.1 8.6l-13.2 7.5l-14.1 7.7l-14.1 7.3l-14.1 6.9M237.1 94.7l-4.7 7.9l-4.7 7.1l-5.6 7.5l-5.7 6.7l-5.6 6l-6.6 6.3l-7.5 6.5l-7.6 5.9l-9.4 6.8l-11.2 7.6l-12.3 7.7l-14.1 8.4l-13.2 7.5l-14.1 7.7l-14.1 7.2l-14.1 6.9M238.6 96.8l-4.7 7.8l-4.7 7l-4.7 6.3l-5.7 6.7l-5.6 6.1l-6.6 6.3l-7.5 6.4l-7.6 5.9l-9.4 6.8l-11.3 7.5l-12.2 7.7l-14.1 8.3l-13.2 7.5l-14.1 7.6l-14.1 7.2l-15 7.3M240 98.9l-4.7 7.7l-4.7 7l-4.7 6.2l-5.7 6.6l-5.6 6l-6.6 6.2l-7.5 6.4l-7.5 5.8l-9.4 6.6l-11.3 7.5l-12.3 7.5l-14.1 8.3l-14.1 7.9l-13.1 7l-14.1 7.2l-15.1 7.3M241.4 101l-4.7 7.7l-4.7 6.8l-4.7 6.1l-5.6 6.6l-5.7 5.9l-6.5 6.1l-7.6 6.3l-7.5 5.7l-9.4 6.6l-11.3 7.3l-12.2 7.5l-14.1 8.2l-14.1 7.8l-13.2 7l-14.1 7.1l-15.1 7.2M242.9 103.1l-4.7 7.6l-4.7 6.8l-4.7 6l-5.7 6.5l-5.6 5.8l-6.6 6.1l-7.5 6.1l-7.5 5.7l-9.5 6.5l-11.2 7.2l-13.2 7.9l-14.1 8.1l-14.1 7.7l-13.2 6.9l-14.1 7.1l-14.1 6.6M244.3 105.3l-4.7 7.5l-4.7 6.6l-4.7 6l-5.6 6.4l-5.7 5.7l-6.6 6l-6.5 5.4l-7.6 5.6l-9.4 6.4l-11.3 7.2l-13.1 7.9l-14.1 8l-14.1 7.7l-14.2 7.3l-14.1 7l-14.1 6.6M245.8 107.4l-4.7 7.4l-4.7 6.6l-4.7 5.9l-5.7 6.3l-5.6 5.6l-6.6 5.9l-6.6 5.3l-7.5 5.5l-9.4 6.4l-11.3 7.1l-13.2 7.7l-14.1 8l-14.1 7.6l-14.1 7.2l-14.1 7l-14.1 6.5M247.2 109.6l-4.7 7.3l-4.7 6.5l-4.7 5.8l-5.6 6.2l-5.7 5.6l-6.6 5.7l-6.6 5.3l-7.5 5.4l-9.4 6.3l-11.3 6.9l-13.1 7.7l-14.2 7.9l-14.1 7.5l-14.1 7.2l-14.1 6.9l-14.1 6.5M248.7 111.8l-4.8 7.2l-4.7 6.4l-4.7 5.7l-5.6 6.1l-5.6 5.5l-5.7 4.9l-6.6 5.2l-7.5 5.4l-9.4 6.2l-11.3 7l-13.2 7.6l-14.1 7.8l-14.1 7.4l-14.1 7.2l-14.1 6.8l-15 7M250.1 113.9l-4.7 7.1l-4.7 6.3l-4.7 5.7l-5.7 6l-5.6 5.4l-5.6 4.8l-6.6 5.2l-7.6 5.3l-9.4 6.1l-11.3 6.9l-13.1 7.5l-14.1 7.7l-14.1 7.4l-14.1 7.1l-14.2 6.7l-15 6.9M251.5 116.1l-4.7 7l-4.7 6.2l-4.7 5.6l-5.6 5.9l-5.7 5.3l-5.6 4.8l-6.6 5l-7.5 5.3l-9.4 6l-11.3 6.7l-13.2 7.5l-14.1 7.6l-14.1 7.3l-14.1 7l-14.1 6.7l-15.1 6.9M253 118.2l-4.7 6.9l-4.7 6.2l-4.7 5.4l-5.7 5.9l-5.6 5.2l-5.7 4.7l-6.6 5l-7.5 5.1l-9.4 6l-11.3 6.6l-13.1 7.4l-14.1 7.5l-14.2 7.2l-14.1 7l-14.1 6.7l-15 6.7M254.4 120.4l-4.7 6.8l-4.7 6l-4.7 5.4l-5.6 5.8l-5.7 5.1l-5.6 4.6l-6.6 4.9l-7.5 5.1l-9.4 5.9l-11.3 6.5l-13.2 7.3l-15 7.9l-14.2 7.1l-14.1 6.9l-14.1 6.6l-14.1 6.3M255.9 122.6l-3.8 5.4l-4.7 6l-4.7 5.5l-5.7 5.7l-5.6 5.2l-5.6 4.6l-6.6 4.9l-7.6 5.1l-9.4 5.8l-11.2 6.5l-13.2 7.2l-15.1 7.8l-14.1 7.1l-14.1 6.8l-14.1 6.6l-15 6.7M257.3 124.7l-3.8 5.3l-4.7 6l-4.7 5.3l-5.6 5.7l-5.7 5.1l-5.6 4.5l-6.6 4.8l-7.5 5l-9.4 5.8l-11.3 6.4l-13.2 7l-15 7.8l-28.2 13.8l-14.2 6.5l-15 6.6M258.7 126.8l-3.7 5.3l-4.7 5.8l-4.7 5.3l-5.7 5.6l-5.6 4.9l-5.7 4.5l-6.5 4.7l-7.6 5l-9.4 5.6l-11.3 6.3l-13.1 7l-15.1 7.7l-28.2 13.7l-14.1 6.4l-15.1 6.6M260.2 129l-3.8 5.1l-4.7 5.8l-4.7 5.1l-5.6 5.5l-5.7 4.9l-5.6 4.4l-6.6 4.6l-7.5 4.9l-9.4 5.6l-11.3 6.2l-13.2 6.9l-15 7.6l-29.2 14l-28.2 12.5M261.6 131.1l-3.7 5l-4.7 5.7l-4.7 5l-5.7 5.4l-5.6 4.8l-5.7 4.4l-6.6 4.5l-7.5 4.8l-9.4 5.5l-10.3 5.7l-13.2 6.8l-16 8l-29.2 13.8l-28.2 12.4M263.1 133.2l-3.8 5l-4.7 5.5l-4.7 5l-5.7 5.3l-5.6 4.7l-5.6 4.2l-6.6 4.5l-7.5 4.7l-9.5 5.4l-10.3 5.6l-13.2 6.8l-16 7.9l-29.1 13.7l-28.2 12.3M264.5 135.3l-3.8 4.9l-4.7 5.4l-4.7 4.9l-5.6 5.2l-5.7 4.6l-5.6 4.2l-6.6 4.4l-7.5 4.6l-9.4 5.4l-10.4 5.5l-29.1 14.5l-29.2 13.6l-28.2 12.2M265.9 137.4l-3.7 4.7l-4.7 5.4l-4.7 4.7l-5.7 5.1l-5.6 4.6l-5.7 4.1l-6.5 4.4l-6.6 4l-9.4 5.3l-10.4 5.4l-29.1 14.4l-29.2 13.5l-29.2 12.5M267.4 139.5l-3.8 4.6l-4.7 5.2l-4.7 4.7l-5.6 5l-5.7 4.5l-5.6 4l-6.6 4.3l-6.6 3.9l-9.4 5.3l-10.3 5.4l-29.2 14.2l-29.2 13.4l-29.1 12.4M268.8 141.5l-3.7 4.6l-4.7 5.1l-4.7 4.5l-5.7 4.9l-5.6 4.4l-5.7 4l-6.6 4.2l-6.5 3.9l-9.4 5.2l-10.4 5.3l-29.2 14.1l-29.1 13.2l-29.2 12.4M270.3 143.6l-3.8 4.4l-4.7 5l-4.7 4.5l-5.6 4.8l-5.7 4.3l-5.6 3.9l-6.6 4.1l-6.6 3.9l-9.4 5l-10.4 5.3l-29.1 13.9l-29.2 13.2l-29.1 12.2M271.7 145.6l-3.8 4.3l-4.7 4.9l-4.7 4.4l-5.6 4.7l-5.6 4.2l-5.7 3.8l-6.6 4.1l-6.6 3.8l-9.4 5l-10.3 5.2l-29.2 13.8l-29.1 13l-29.2 12.2M273.2 147.6l-3.8 4.2l-4.7 4.8l-4.7 4.2l-5.7 4.7l-5.6 4.1l-5.6 3.8l-6.6 4l-6.6 3.7l-9.4 5l-10.4 5.1l-29.1 13.7l-29.2 12.9l-29.1 12.1M274.6 149.5l-3.8 4.2l-4.7 4.6l-4.7 4.2l-5.6 4.5l-5.7 4.1l-5.6 3.7l-6.6 3.9l-6.6 3.7l-9.4 4.9l-10.3 5.1l-29.2 13.5l-29.1 12.8l-29.2 12.1M276 151.5l-3.7 4l-4.7 4.6l-4.7 4l-5.7 4.5l-5.6 3.9l-5.7 3.7l-13.1 7.5l-9.4 4.8l-10.4 5l-29.1 13.4l-29.2 12.7l-29.2 12M277.5 153.4l-3.8 3.9l-4.7 4.5l-4.7 4l-5.6 4.3l-5.7 3.9l-5.6 3.5l-13.2 7.4l-19.7 9.8l-29.2 13.3l-29.2 12.6l-29.1 11.9M278.9 155.4l-3.7 3.7l-4.7 4.3l-4.8 3.9l-5.6 4.3l-5.6 3.8l-5.7 3.5l-13.2 7.3l-19.7 9.6l-29.2 13.2l-29.1 12.5l-29.2 11.9M280.4 157.2l-3.8 3.7l-4.7 4.2l-4.7 3.8l-5.7 4.1l-5.6 3.8l-5.6 3.4l-13.2 7.2l-19.8 9.5l-29.1 13.1l-29.2 12.4l-29.1 11.8M281.8 159.1l-3.8 3.6l-4.7 4l-4.7 3.7l-5.6 4.1l-5.7 3.6l-5.6 3.4l-13.2 7.1l-19.7 9.4l-29.2 13l-29.1 12.4l-29.2 11.7M283.2 160.9l-3.7 3.5l-4.7 4l-4.7 3.6l-5.7 3.9l-11.3 6.9l-13.1 7l-19.8 9.3l-29.1 12.9l-29.2 12.3l-29.2 11.7M284.7 162.8l-8.5 7.1l-4.7 3.6l-5.6 3.8l-11.3 6.7l-13.2 6.9l-19.7 9.3l-29.2 12.7l-29.2 12.3l-29.1 11.7M286.1 164.6l-8.4 6.9l-4.7 3.4l-5.7 3.8l-11.3 6.6l-14.1 7.2l-19.7 9.1l-29.2 12.7l-29.2 12.2l-28.2 11.2M287.6 166.3l-8.5 6.7l-4.7 3.4l-5.6 3.6l-11.3 6.5l-14.1 7.1l-19.8 9.1l-29.2 12.6l-29.1 12.1l-28.2 11.2M289 168.1l-8.5 6.5l-10.3 6.7l-11.3 6.4l-14.1 7l-20.7 9.4l-28.2 12.1l-28.2 11.7l-29.2 11.6M290.4 169.8l-8.4 6.2l-10.4 6.6l-11.3 6.2l-14.1 7l-20.7 9.3l-28.2 12l-28.2 11.7l-29.2 11.5M291.9 171.5l-9.4 6.6l-10.4 6.3l-11.3 6.1l-14.1 6.8l-20.7 9.2l-28.2 11.9l-28.2 11.6l-28.2 11.2M293.3 173.1l-9.4 6.4l-10.3 6.2l-11.3 5.9l-14.1 6.7l-20.7 9.2l-27.3 11.5l-28.2 11.5l-29.2 11.6M294.8 174.8l-9.4 6.1l-10.4 6l-12.2 6.2l-14.1 6.6l-20.7 9.1l-27.3 11.5l-28.2 11.5l-28.2 11.1M296.2 176.4l-9.4 5.9l-10.3 5.7l-12.3 6.2l-14.1 6.5l-20.7 9l-27.3 11.4l-28.2 11.5l-28.2 11.2M297.7 178l-9.5 5.6l-10.3 5.6l-12.2 6l-15.1 6.9l-20.7 9l-26.3 10.9l-27.3 11.1l-29.1 11.5M299.1 179.5l-9.4 5.4l-11.3 5.9l-13.2 6.3l-15 6.8l-20.7 8.8l-26.4 11l-54.5 21.8M300.5 181.1l-10.3 5.6l-11.3 5.7l-13.2 6.1l-15 6.7l-20.7 8.8l-25.4 10.5l-54.6 21.9M302 182.6l-10.4 5.4l-12.2 5.9l-13.2 6l-16 7l-45.1 18.9l-53.6 21.4M303.4 184.1l-11.3 5.6l-12.2 5.7l-31 13.6l-43.3 18l-52.7 21.1M304.9 185.5l-25.4 11.8l-32 13.8l-41.4 17.1l-51.7 20.7M306.3 187l-28.2 12.5l-33.9 14.4l-39.5 16.3l-48.9 19.6M191 46.4l3.6 1.9l3.6 2.3l3.6 2.7l3.6 3l7.2 7l7.9 9l6.5 8.3l8 11l28.8 42.7l7.2 10.3l6.5 8.8l7.2 9.4l7.2 8.7l7.2 8l7.2 7.5M189.1 49.8l6.5 3.9l3.6 2.6l3.6 3l7.2 6.8l7.9 8.9l6.5 8.1l7.2 9.8l29.6 42.8l7.2 10.1l6.5 8.7l7.2 9.1l7.2 8.5l7.2 7.8l7.9 7.9M187.2 53.2l6.5 3.9l3.6 2.6l3.6 3l7.2 6.9l7.2 8l6.5 7.9l7.2 9.6l29.6 42l7.2 9.9l6.5 8.5l7.9 9.8l7.2 8.2l7.2 7.5l7.9 7.7M185.4 56.4l6.4 4l6.5 5l7.2 6.8l7.2 7.8l6.5 7.8l7.2 9.4l29.6 41.3l7.2 9.7l6.5 8.3l7.9 9.5l7.2 8.1l7.9 8l8 7.4M183.5 59.6l6.5 4l6.4 5.1l6.5 6l7.2 7.6l6.5 7.7l7.2 9.2l30.3 41.5l7.2 9.5l6.5 8.1l7.9 9.3l7.2 7.8l7.9 7.8l8 7.2M181.6 62.7l6.5 4.1l6.5 5l6.5 6l7.2 7.6l6.4 7.6l7.2 9.1l29.6 39.8l7.2 9.3l6.5 8l7.9 9.1l7.9 8.4l7.2 6.9l8.7 7.6M179.7 65.8l6.5 4.1l6.5 5l6.5 5.9l6.5 6.7l6.4 7.5l7.2 8.9l29.6 39.1l7.2 9.2l7.2 8.7l7.9 8.9l8 8.1l7.2 6.8l8.6 7.4M177.8 68.8l5.8 3.5l6.5 4.9l6.5 5.8l6.5 6.6l6.4 7.3l7.2 8.7l30.3 39.4l7.2 9l7.2 8.5l8 8.7l7.2 7.3l7.9 7.2l8.6 7.2M175.9 71.7l5.8 3.5l6.5 4.9l6.5 5.7l6.5 6.6l6.5 7.1l7.2 8.7l29.5 37.8l7.2 8.9l7.2 8.4l7.9 8.5l8 7.9l7.9 7l8.6 7M174.1 74.5l5.7 3.6l6.5 4.8l6.5 5.7l6.5 6.4l6.5 7.1l6.5 7.6l30.2 38.2l7.2 8.7l7.2 8.2l8 8.4l7.9 7.6l7.9 6.9l8.7 6.9M172.2 77.3l5.8 3.5l6.4 4.8l5.8 5l6.5 6.3l6.5 6.9l7.2 8.3l30.2 37.5l7.3 8.6l7.2 8l7.9 8.3l7.9 7.5l7.9 6.7l8.7 6.7M170.3 80l5.8 3.5l6.5 4.8l5.7 4.9l6.5 6.2l6.5 6.8l7.2 8.2l29.5 36.1l7.3 8.4l7.2 8l7.9 8.1l7.9 7.4l7.9 6.7l9.4 7.1M168.4 82.7l5.8 3.4l6.5 4.7l5.7 4.9l6.5 6.1l6.5 6.7l7.2 8.1l29.6 35.5l7.2 8.3l7.2 7.9l7.9 8l7.9 7.2l8 6.6l9.3 7M166.5 85.3l5.8 3.4l6.5 4.6l5.8 4.8l6.4 6l6.5 6.7l6.5 7.1l30.3 35.8l7.2 8.2l7.2 7.7l7.9 7.9l7.9 7.1l8 6.4l9.3 6.9M164.7 87.8l5.7 3.4l6.5 4.6l5.8 4.7l6.5 5.9l6.4 6.6l6.5 7l30.3 35.3l7.2 8l7.2 7.6l7.9 7.7l8 7l7.9 6.4l9.4 6.7M162.8 90.3l5.7 3.4l5.8 3.9l5.8 4.6l6.5 5.8l6.4 6.3l7.3 7.7l30.2 34.8l7.2 7.9l7.2 7.4l8 7.7l7.9 6.9l7.9 6.2l9.4 6.6M160.9 92.8l5.8 3.2l6.5 4.5l5.7 4.5l6.5 5.8l6.5 6.4l6.5 6.8l30.2 34.2l7.2 7.8l7.3 7.4l7.9 7.5l7.9 6.8l7.9 6.1l9.4 6.5M159 95.1l5.8 3.3l6.5 4.3l5.7 4.5l6.5 5.7l6.5 6.3l6.5 6.7l30.3 33.7l7.2 7.7l7.2 7.2l7.9 7.4l7.9 6.8l8 6l9.3 6.5M157.1 97.5l5.8 3.1l6.5 4.3l5.8 4.4l6.4 5.6l6.5 6.2l7.2 7.4l29.6 32.5l7.2 7.5l7.2 7.2l7.9 7.3l7.9 6.6l8 6l9.3 6.4M155.3 99.8l5.7 3.1l6.5 4.2l5.8 4.3l6.5 5.5l6.4 6.1l7.2 7.3l29.6 32l7.2 7.5l7.2 7l7.9 7.2l8 6.6l7.9 5.9l9.4 6.3M153.4 102l5.7 3l6.5 4.2l5.8 4.3l6.5 5.4l6.5 6l7.2 7.1l30.2 32.3l7.2 7.4l7.2 6.9l8 7.1l7.9 6.4l7.9 5.8l8.7 5.7M151.5 104.2l5.8 3l6.4 4l5.8 4.2l6.5 5.4l6.5 5.9l7.2 7l30.3 31.9l7.2 7.2l7.2 6.9l7.9 6.9l7.9 6.4l7.9 5.7l8.7 5.7M149.6 106.3l5.8 3l6.5 4l5.7 4.1l6.5 5.2l6.5 5.8l7.2 7l30.3 31.4l7.2 7.1l7.2 6.8l7.9 6.9l7.9 6.3l8 5.7l8.6 5.6M147.7 108.4l5.8 2.9l6.5 3.9l6.5 4.6l6.5 5.3l6.4 5.7l7.2 6.9l29.6 30.3l7.2 7.1l7.2 6.6l7.9 6.9l8 6.2l7.9 5.6l8.6 5.6M145.8 110.5l5.8 2.8l6.5 3.9l6.5 4.5l6.5 5.1l6.5 5.7l7.2 6.8l29.5 29.9l7.2 6.9l7.2 6.7l7.9 6.7l8 6.2l7.9 5.6l8.6 5.5M144 112.5l5.7 2.8l6.5 3.7l6.5 4.5l6.5 5.1l6.5 5.5l7.2 6.7l29.5 29.5l7.2 6.9l7.2 6.6l8 6.7l7.9 6.1l7.9 5.5l8.7 5.5M142.1 114.5l6.5 3.1l6.5 3.8l6.4 4.4l6.5 5l6.5 5.6l7.2 6.6l29.6 29.1l13.7 12.6l7.9 6.7l7.9 6l7.9 5.5l8.7 5.5M140.2 116.4l6.5 3l6.5 3.8l6.5 4.3l6.4 5l6.5 5.5l7.2 6.5l29.6 28.7l7.2 6.8l7.2 6.3l7.9 6.6l7.2 5.4l8 5.5l8.6 5.4M138.3 118.3l6.5 3l6.5 3.6l6.5 4.3l6.5 4.9l6.5 5.4l7.2 6.5l29.5 28.3l7.2 6.7l7.2 6.3l7.9 6.5l7.3 5.4l7.9 5.4l8.6 5.4M136.4 120.2l6.5 2.9l6.5 3.6l6.5 4.2l6.5 4.8l6.5 5.3l7.2 6.4l30.2 28.7l13.7 12.1l8 6.4l7.9 5.9l7.2 4.9l8.6 5.4M134.6 122l6.4 2.9l6.5 3.5l6.5 4.2l7.2 5.3l6.5 5.2l7.2 6.3l29.6 27.7l13.7 12.1l7.9 6.3l7.9 5.9l7.2 4.8l8.7 5.4M132.7 123.8l6.5 2.8l6.5 3.5l6.4 4.1l7.2 5.2l6.5 5.2l7.2 6.2l29.6 27.4l14.4 12.5l7.9 6.2l7.2 5.3l7.2 4.8l8.7 5.3M130.8 125.5l6.5 2.8l6.5 3.4l6.5 4.1l7.2 5.1l6.4 5.1l7.3 6.2l30.2 27.6l13.7 11.8l7.9 6.2l7.2 5.2l7.3 4.8l8.6 5.3M128.9 127.2l6.5 2.8l6.5 3.4l7.2 4.4l7.2 5.2l6.5 5.1l7.2 6.1l29.5 26.7l13.7 11.6l8 6.2l7.2 5.2l7.2 4.7l8.6 5.3M127 128.9l6.5 2.7l6.5 3.4l7.2 4.4l7.2 5l6.5 5.1l7.2 6l29.6 26.4l13.7 11.5l7.9 6.1l7.2 5.2l7.2 4.8l8.6 5.2M125.2 130.6l6.4 2.6l6.5 3.3l7.2 4.4l7.2 5l6.5 4.9l7.2 6l30.3 26.7l13.7 11.4l7.9 6l7.2 5.1l7.2 4.7l8 4.8M123.3 132.2l6.5 2.6l7.2 3.7l7.2 4.3l7.2 5l6.5 5l7.2 5.9l29.5 25.8l13.7 11.2l7.9 6l7.2 5.1l7.2 4.7l8 4.8M121.4 133.8l6.5 2.6l7.2 3.6l7.2 4.3l7.2 4.9l6.5 4.9l7.2 5.8l29.5 25.6l13.7 11.1l8 6l7.2 5l7.2 4.7l7.9 4.8M119.5 135.4l6.5 2.5l7.2 3.6l7.2 4.2l7.2 4.9l6.5 4.8l7.9 6.4l28.9 24.6l13.6 11.1l8 5.9l7.2 5l7.2 4.7l7.9 4.7M117.6 136.9l6.5 2.6l7.2 3.5l7.2 4.2l7.2 4.8l6.5 4.7l7.9 6.3l29.6 25l13.7 10.9l7.2 5.4l7.2 4.9l7.2 4.7l7.9 4.7M115.8 138.4l6.4 2.5l7.2 3.5l7.2 4.2l8 5.2l6.5 4.8l7.2 5.6l29.5 24.7l13.7 10.9l7.2 5.3l7.2 4.9l7.2 4.7l8 4.7M113.9 139.9l6.5 2.5l7.2 3.5l7.2 4.1l7.9 5.2l6.5 4.7l7.9 6.1l28.8 23.9l13.7 10.8l7.2 5.2l7.2 5l7.2 4.6l8 4.7M112 141.4l6.5 2.4l7.2 3.5l7.2 4l7.9 5.2l6.5 4.6l7.9 6.1l28.9 23.6l13.6 10.7l7.2 5.2l7.3 5l7.2 4.5l7.9 4.7M110.1 142.8l7.2 2.8l7.2 3.4l7.2 4.1l8 5.2l6.4 4.6l7.2 5.5l29.6 24l13 10l7.2 5.2l7.2 4.9l7.2 4.5l7.9 4.7M108.2 144.2l7.2 2.8l7.2 3.4l7.2 4.1l8 5.1l6.5 4.5l7.9 6l28.8 23.2l13.7 10.4l7.2 5.2l7.2 4.8l7.2 4.5l7.2 4.3M106.3 145.6l7.3 2.8l7.2 3.4l7.2 4l7.9 5l6.5 4.6l7.9 5.9l28.8 22.9l13.7 10.4l14.4 9.9l7.2 4.5l7.2 4.3M104.5 146.9l7.2 2.8l7.2 3.4l7.2 4l7.9 5l6.5 4.5l7.9 5.9l29.6 23.2l12.9 9.7l14.4 9.9l14.5 8.7M102.6 148.3l7.2 2.7l7.2 3.4l7.2 4l7.9 4.9l6.5 4.5l7.9 5.8l29.6 23l13 9.7l14.4 9.8l14.4 8.7M100.7 149.6l7.2 2.8l7.2 3.3l7.9 4.4l8 5l6.5 4.4l7.9 5.8l28.8 22.2l13 9.6l14.4 9.8l14.4 8.7M98.8 150.9l7.2 2.8l7.2 3.3l8 4.3l7.9 5l6.5 4.4l7.9 5.7l28.8 22l13.7 10.1l14.4 9.6l13.7 8.2M96.9 152.2l7.2 2.7l7.2 3.4l8 4.3l7.9 4.9l6.5 4.3l7.9 5.7l29.6 22.4l12.9 9.4l14.4 9.6l13.7 8.2M95.1 153.4l7.2 2.8l7.2 3.3l7.9 4.3l7.9 4.9l6.5 4.3l7.9 5.6l29.6 22.2l13 9.3l14.4 9.6l13.7 8.2M93.2 154.7l7.2 2.8l7.9 3.7l7.9 4.3l8 4.8l14.4 9.9l28.8 21.5l13 9.2l14.4 9.6l13.7 8.1M91.3 155.9l7.2 2.8l7.9 3.7l8 4.3l7.9 4.8l14.4 9.8l28.8 21.3l13 9.2l14.4 9.4l13.7 8.2M89.4 157.1l7.2 2.8l7.9 3.7l8 4.3l7.9 4.8l14.4 9.7l29.6 21.6l12.9 9.1l13.7 8.9l13.7 8.2M87.5 158.3l7.2 2.8l8 3.7l7.9 4.3l7.9 4.7l14.4 9.7l29.6 21.3l12.9 9.1l13.7 8.9l13.7 8.1M85.6 159.4l7.3 2.9l7.9 3.7l7.9 4.2l7.9 4.8l15.2 10l28.8 20.7l13 9l13.7 8.9l13.6 8.1M83.8 160.6l7.2 2.8l7.9 3.7l7.9 4.3l8.7 5.1l14.4 9.6l28.8 20.5l13 8.9l13.7 8.8l13.7 8.1M81.9 161.7l7.2 2.9l7.9 3.7l7.9 4.2l8.7 5.2l15.1 9.9l28.1 19.9l13 8.8l13.7 8.8l13.7 8.1M80 162.8l7.2 2.9l7.9 3.8l8 4.2l8.6 5.1l15.1 9.9l28.9 20.1l12.9 8.8l13.7 8.7l13 7.7M78.1 163.9l7.2 3l8 3.7l7.9 4.2l8.6 5.1l15.2 9.8l28.8 20l13 8.7l13.7 8.7l12.9 7.6M76.2 165l7.3 3l7.9 3.7l7.9 4.2l8.7 5.1l15.1 9.7l28.8 19.8l13 8.7l13.7 8.7l12.9 7.6M74.4 166.1l7.9 3.3l7.9 3.8l7.9 4.2l8.7 5.1l15.1 9.7l28.8 19.7l12.3 8.1l13.7 8.6l13 7.6M72.5 167.1l7.9 3.4l7.9 3.8l8 4.2l8.6 5.1l15.1 9.6l28.9 19.5l12.9 8.6l13 8.1l13 7.6M70.6 168.1l7.9 3.4l8 3.9l7.9 4.2l8.6 5l15.2 9.6l29.5 19.8l12.3 8l12.9 8.1l13 7.6M68.7 169.2l7.9 3.4l8 3.8l8.6 4.7l8.7 5l15.1 9.6l41.1 27.1l12.9 8.1l13 7.6M66.8 170.2l8 3.5l7.9 3.8l8.6 4.6l8.7 5.1l15.1 9.4l41.8 27.5l13 8l12.2 7.2M65 171.2l7.9 3.5l7.9 3.9l8.7 4.6l8.6 5l15.9 9.9l41 26.7l13 8l12.3 7.2M63.1 172.2l7.9 3.5l8.6 4.3l8.7 4.6l8.6 5l15.2 9.4l41.1 26.6l12.9 8l12.3 7.2M61.2 173.1l7.9 3.6l8.7 4.3l8.6 4.7l8.7 5l15.8 9.7l41.1 26.4l12.2 7.5l12.3 7.2M59.3 174.1l7.9 3.6l8.7 4.3l8.6 4.7l8.7 5l15.8 9.7l41.8 26.6l12.3 7.5l11.5 6.8M57.4 175.1l8 3.6l8.6 4.4l8.7 4.6l9.3 5.4l15.9 9.7l41.1 26l23.7 14.2M55.5 176l8.7 4.1l8.6 4.3l8.7 4.7l9.4 5.4l15.8 9.6l41.1 25.9l23 13.8M53.7 176.9l8.6 4.1l8.7 4.4l18 10.1l16.6 10l41 25.7l22.4 13.3M51.8 177.9l8.6 4.1l8.7 4.4l18.7 10.5l16.6 10l41.1 25.5l21.6 12.9M49.9 178.8l8.7 4.2l9.3 4.8l18.8 10.5l16.5 9.9l41.1 25.4l20.9 12.4M48 179.7l18 9.1l19.5 10.8l17.3 10.4l41.1 25.2l19.4 11.6M46.1 180.6l18.8 9.5l19.4 10.9l15.2 9l40.3 24.6l21.6 12.9M44.3 181.4l19.4 10.1l20.2 11.3l15.9 9.4l39.6 24l20.2 12.1M42.4 182.3l19.4 10.1l20.9 11.7l18.1 10.6l56.9 34.3M40.5 183.2l20.9 10.9l21.6 12.2l19.5 11.4l53.3 32.1"/>
<path class="ax" d="M40.5 85.6L40.5 208.2L155.8 264.7L306.3 221.7M44.6 207L38.4 208.8M66.3 217.6L60 219.4M87.9 228.2L81.7 230M109.5 238.8L103.3 240.6M131.1 249.4L124.9 251.2M152.7 260L146.5 261.8M303.1 220.1L307.9 222.5M274.9 228.2L279.7 230.5M246.7 236.3L251.4 238.6M218.5 244.3L223.2 246.7M190.3 252.4L195 254.7M162 260.5L166.8 262.8M36.6 196.1L40.5 198L44.7 196.8M36.6 165.4L40.5 167.3L44.7 166.1M36.6 134.8L40.5 136.7L44.7 135.5M36.6 104.1L40.5 106L44.7 104.8"/>
<text transform="translate(113.43 17.40) scale(0.765 1)" font-size="11.91" font-family='"Liberation Serif", serif'>Mutual inductance voltage value</text>
<text transform="translate(127.83 28.50) scale(0.943 1)" font-size="11.14" font-family='"Liberation Serif", serif'>θ</text>
<text transform="translate(132.41 33.40) scale(0.742 1)" font-size="9.62" font-family='"Liberation Serif", serif'>0</text>
<text transform="translate(137.90 28.80) scale(1.004 1)" font-size="12.00" font-family='"Liberation Serif", serif'>=</text>
<text transform="translate(146.98 28.90) scale(0.788 1)" font-size="12.18" font-family='"Liberation Serif", serif'>10</text>
<text transform="translate(156.23 23.30) scale(0.964 1)" font-size="6.92" font-family='"Liberation Serif", serif'>0</text>
<text transform="translate(161.52 28.50) scale(0.689 1)" font-size="11.51" font-family='"Liberation Serif", serif'>and</text>
<text transform="translate(176.99 28.50) scale(0.784 1)" font-size="11.76" font-family='"Liberation Serif", serif'>Z</text>
<text transform="translate(182.56 33.40) scale(0.905 1)" font-size="9.47" font-family='"Liberation Serif", serif'>0</text>
<text transform="translate(188.21 28.80) scale(0.986 1)" font-size="12.00" font-family='"Liberation Serif", serif'>=</text>
<text transform="translate(196.80 28.50) scale(0.795 1)" font-size="11.82" font-family='"Liberation Serif", serif'>15mm</text>
<text transform="translate(21.76 108.40) scale(0.780 1)" font-size="14.14" font-family='"Liberation Serif", serif'>1.8</text>
<text transform="translate(21.81 138.70) scale(0.796 1)" font-size="13.18" font-family='"Liberation Serif", serif'>1.5</text>
<text transform="translate(21.38 170.10) scale(0.776 1)" font-size="13.94" font-family='"Liberation Serif", serif'>1.2</text>
<text transform="translate(20.65 200.80) scale(0.807 1)" font-size="13.98" font-family='"Liberation Serif", serif'>0.9</text>
<text transform="translate(17.80 171.41) rotate(-90) scale(0.961 1)" font-size="11.45" font-family='"Liberation Serif", serif'>V</text>
<text transform="translate(17.80 162.31) rotate(-90) scale(0.894 1)" font-size="11.45" font-family='"Liberation Serif", serif'>o</text>
<text transform="translate(17.80 156.12) rotate(-90) scale(0.946 1)" font-size="11.45" font-family='"Liberation Serif", serif'>l</text>
<text transform="translate(17.80 152.63) rotate(-90) scale(1.176 1)" font-size="11.45" font-family='"Liberation Serif", serif'>t</text>
<text transform="translate(17.80 148.58) rotate(-90) scale(0.951 1)" font-size="11.45" font-family='"Liberation Serif", serif'>a</text>
<text transform="translate(17.80 144.43) rotate(-90) scale(1.024 1)" font-size="11.45" font-family='"Liberation Serif", serif'>g</text>
<text transform="translate(17.80 138.93) rotate(-90) scale(0.944 1)" font-size="11.45" font-family='"Liberation Serif", serif'>e</text>
<text transform="translate(17.80 133.70) rotate(-90) scale(1.366 1)" font-size="11.45" font-family='"Liberation Serif", serif'>/</text>
<text transform="translate(17.80 128.57) rotate(-90) scale(0.636 1)" font-size="11.45" font-family='"Liberation Serif", serif'>V</text>
<text transform="translate(28.61 222.50) scale(0.878 1)" font-size="13.83" font-family='"Liberation Serif", serif'>0</text>
<text transform="translate(45.75 232.80) scale(0.803 1)" font-size="13.94" font-family='"Liberation Serif", serif'>15</text>
<text transform="translate(66.86 243.20) scale(0.808 1)" font-size="14.74" font-family='"Liberation Serif", serif'>30</text>
<text transform="translate(88.89 253.60) scale(0.755 1)" font-size="14.09" font-family='"Liberation Serif", serif'>45</text>
<text transform="translate(110.05 264.10) scale(0.845 1)" font-size="13.38" font-family='"Liberation Serif", serif'>60</text>
<text transform="translate(132.09 274.20) scale(0.797 1)" font-size="13.74" font-family='"Liberation Serif", serif'>75</text>
<text transform="translate(170.48 276.30) scale(0.755 1)" font-size="14.66" font-family='"Liberation Serif", serif'>75</text>
<text transform="translate(198.04 268.80) scale(0.807 1)" font-size="14.29" font-family='"Liberation Serif", serif'>60</text>
<text transform="translate(226.89 260.50) scale(0.747 1)" font-size="14.09" font-family='"Liberation Serif", serif'>45</text>
<text transform="translate(254.45 252.90) scale(0.815 1)" font-size="14.89" font-family='"Liberation Serif", serif'>30</text>
<text transform="translate(283.90 244.80) scale(0.709 1)" font-size="15.00" font-family='"Liberation Serif", serif'>15</text>
<text transform="translate(311.61 236.80) scale(0.868 1)" font-size="13.98" font-family='"Liberation Serif", serif'>0</text>
<text transform="translate(22.42 275.70) scale(0.770 1)" font-size="11.91" font-family='"Liberation Serif", serif'>Horizontal displacement/mm</text>
<text transform="translate(207.11 276.80) scale(0.742 1)" font-size="12.21" font-family='"Liberation Serif", serif'>Vertical displacement/mm</text>
<text transform="translate(150.13 310.62) scale(1.115 1)" font-size="15.27" font-family='"Liberation Serif", serif' font-weight="bold">(a)</text>
<defs><linearGradient id="cbg1" x1="0" y1="0" x2="0" y2="1"><stop offset="0.0000" stop-color="#800000"/><stop offset="0.0156" stop-color="#800000"/><stop offset="0.0156" stop-color="#8f0000"/><stop offset="0.0312" stop-color="#8f0000"/><stop offset="0.0312" stop-color="#9f0000"/><stop offset="0.0469" stop-color="#9f0000"/><stop offset="0.0469" stop-color="#af0000"/><stop offset="0.0625" stop-color="#af0000"/><stop offset="0.0625" stop-color="#bf0000"/><stop offset="0.0781" stop-color="#bf0000"/><stop offset="0.0781" stop-color="#cf0000"/><stop offset="0.0938" stop-color="#cf0000"/><stop offset="0.0938" stop-color="#df0000"/><stop offset="0.1094" stop-color="#df0000"/><stop offset="0.1094" stop-color="#ef0000"/><stop offset="0.1250" stop-color="#ef0000"/><stop offset="0.1250" stop-color="#ff0000"/><stop offset="0.1406" stop-color="#ff0000"/><stop offset="0.1406" stop-color="#ff1000"/><stop offset="0.1562" stop-color="#ff1000"/><stop offset="0.1562" stop-color="#ff2000"/><stop offset="0.1719" stop-color="#ff2000"/><stop offset="0.1719" stop-color="#ff3000"/><stop offset="0.1875" stop-color="#ff3000"/><stop offset="0.1875" stop-color="#ff4000"/><stop offset="0.2031" stop-color="#ff4000"/><stop offset="0.2031" stop-color="#ff5000"/><stop offset="0.2188" stop-color="#ff5000"/><stop offset="0.2188" stop-color="#ff6000"/><stop offset="0.2344" stop-color="#ff6000"/><stop offset="0.2344" stop-color="#ff7000"/><stop offset="0.2500" stop-color="#ff7000"/><stop offset="0.2500" stop-color="#ff8000"/><stop offset="0.2656" stop-color="#ff8000"/><stop offset="0.2656" stop-color="#ff8f00"/><stop offset="0.2812" stop-color="#ff8f00"/><stop offset="0.2812" stop-color="#ff9f00"/><stop offset="0.2969" stop-color="#ff9f00"/><stop offset="0.2969" stop-color="#ffaf00"/><stop offset="0.3125" stop-color="#ffaf00"/><stop offset="0.3125" stop-color="#ffbf00"/><stop offset="0.3281" stop-color="#ffbf00"/><stop offset="0.3281" stop-color="#ffcf00"/><stop offset="0.3438" stop-color="#ffcf00"/><stop offset="0.3438" stop-color="#ffdf00"/><stop offset="0.3594" stop-color="#ffdf00"/><stop offset="0.3594" stop-color="#ffef00"/><stop offset="0.3750" stop-color="#ffef00"/><stop offset="0.3750" stop-color="#ffff00"/><stop offset="0.3906" stop-color="#ffff00"/><stop offset="0.3906" stop-color="#eeff00"/><stop offset="0.4062" stop-color="#eeff00"/><stop offset="0.4062" stop-color="#dbff00"/><stop offset="0.4219" stop-color="#dbff00"/><stop offset="0.4219" stop-color="#c4ff00"/><stop offset="0.4375" stop-color="#c4ff00"/><stop offset="0.4375" stop-color="#aaff00"/><stop offset="0.4531" stop-color="#aaff00"/><stop offset="0.4531" stop-color="#8bff00"/><stop offset="0.4688" stop-color="#8bff00"/><stop offset="0.4688" stop-color="#6bff08"/><stop offset="0.4844" stop-color="#6bff08"/><stop offset="0.4844" stop-color="#52ff21"/><stop offset="0.5000" stop-color="#52ff21"/><stop offset="0.5000" stop-color="#39ff39"/><stop offset="0.5156" stop-color="#39ff39"/><stop offset="0.5156" stop-color="#21ff52"/><stop offset="0.5312" stop-color="#21ff52"/><stop offset="0.5312" stop-color="#08ff6b"/><stop offset="0.5469" stop-color="#08ff6b"/><stop offset="0.5469" stop-color="#00ff8b"/><stop offset="0.5625" stop-color="#00ff8b"/><stop offset="0.5625" stop-color="#00ffaa"/><stop offset="0.5781" stop-color="#00ffaa"/><stop offset="0.5781" stop-color="#00ffc4"/><stop offset="0.5938" stop-color="#00ffc4"/><stop offset="0.5938" stop-color="#00ffdb"/><stop offset="0.6094" stop-color="#00ffdb"/><stop offset="0.6094" stop-color="#00ffee"/><stop offset="0.6250" stop-color="#00ffee"/><stop offset="0.6250" stop-color="#00ffff"/><stop offset="0.6406" stop-color="#00ffff"/><stop offset="0.6406" stop-color="#00efff"/><stop offset="0.6562" stop-color="#00efff"/><stop offset="0.6562" stop-color="#00dfff"/><stop offset="0.6719" stop-color="#00dfff"/><stop offset="0.6719" stop-color="#00cfff"/><stop offset="0.6875" stop-color="#00cfff"/><stop offset="0.6875" stop-color="#00bfff"/><stop offset="0.7031" stop-color="#00bfff"/><stop offset="0.7031" stop-color="#00afff"/><stop offset="0.7188" stop-color="#00afff"/><stop offset="0.7188" stop-color="#009fff"/><stop offset="0.7344" stop-color="#009fff"/><stop offset="0.7344" stop-color="#008fff"/><stop offset="0.7500" stop-color="#008fff"/><stop offset="0.7500" stop-color="#0080ff"/><stop offset="0.7656" stop-color="#0080ff"/><stop offset="0.7656" stop-color="#0070ff"/><stop offset="0.7812" stop-color="#0070ff"/><stop offset="0.7812" stop-color="#0060ff"/><stop offset="0.7969" stop-color="#0060ff"/><stop offset="0.7969" stop-color="#0050ff"/><stop offset="0.8125" stop-color="#0050ff"/><stop offset="0.8125" stop-color="#0040ff"/><stop offset="0.8281" stop-color="#0040ff"/><stop offset="0.8281" stop-color="#0030ff"/><stop offset="0.8438" stop-color="#0030ff"/><stop offset="0.8438" stop-color="#0020ff"/><stop offset="0.8594" stop-color="#0020ff"/><stop offset="0.8594" stop-color="#0010ff"/><stop offset="0.8750" stop-color="#0010ff"/><stop offset="0.8750" stop-color="#0000ff"/><stop offset="0.8906" stop-color="#0000ff"/><stop offset="0.8906" stop-color="#0000ef"/><stop offset="0.9062" stop-color="#0000ef"/><stop offset="0.9062" stop-color="#0000df"/><stop offset="0.9219" stop-color="#0000df"/><stop offset="0.9219" stop-color="#0000cf"/><stop offset="0.9375" stop-color="#0000cf"/><stop offset="0.9375" stop-color="#0000bf"/><stop offset="0.9531" stop-color="#0000bf"/><stop offset="0.9531" stop-color="#0000af"/><stop offset="0.9688" stop-color="#0000af"/><stop offset="0.9688" stop-color="#00009f"/><stop offset="0.9844" stop-color="#00009f"/><stop offset="0.9844" stop-color="#00008f"/><stop offset="1.0000" stop-color="#00008f"/></linearGradient></defs>
<rect x="317.1" y="42.3" width="12.6" height="221.3" fill="url(#cbg1)" stroke="#333" stroke-width="0.5"/>
<text transform="translate(331.56 254.47) scale(0.949 1)" font-size="7.54" font-family='"Liberation Sans", sans-serif' style="stroke:none;fill:#222">1</text>
<text transform="translate(331.56 232.76) scale(0.949 1)" font-size="7.54" font-family='"Liberation Sans", sans-serif' style="stroke:none;fill:#222">1.1</text>
<text transform="translate(331.56 211.04) scale(0.963 1)" font-size="7.43" font-family='"Liberation Sans", sans-serif' style="stroke:none;fill:#222">1.2</text>
<text transform="translate(331.56 189.32) scale(0.963 1)" font-size="7.43" font-family='"Liberation Sans", sans-serif' style="stroke:none;fill:#222">1.3</text>
<text transform="translate(331.56 167.60) scale(0.949 1)" font-size="7.54" font-family='"Liberation Sans", sans-serif' style="stroke:none;fill:#222">1.4</text>
<text transform="translate(331.56 145.89) scale(0.949 1)" font-size="7.54" font-family='"Liberation Sans", sans-serif' style="stroke:none;fill:#222">1.5</text>
<text transform="translate(331.56 124.17) scale(0.963 1)" font-size="7.43" font-family='"Liberation Sans", sans-serif' style="stroke:none;fill:#222">1.6</text>
<text transform="translate(331.56 102.45) scale(0.949 1)" font-size="7.54" font-family='"Liberation Sans", sans-serif' style="stroke:none;fill:#222">1.7</text>
<text transform="translate(331.56 80.73) scale(0.963 1)" font-size="7.43" font-family='"Liberation Sans", sans-serif' style="stroke:none;fill:#222">1.8</text>
<text transform="translate(331.56 59.02) scale(0.963 1)" font-size="7.43" font-family='"Liberation Sans", sans-serif' style="stroke:none;fill:#222">1.9</text>
<path class="ax" d="M329.7 251.9h-1.5M329.7 230.2h-1.5M329.7 208.4h-1.5M329.7 186.7h-1.5M329.7 165h-1.5M329.7 143.3h-1.5M329.7 121.6h-1.5M329.7 99.9h-1.5M329.7 78.1h-1.5M329.7 56.4h-1.5"/>
<path class="g" d="M444.7 203.6L589.4 161.3L701 218.2M444.7 179.2L589.4 136.9L701 193.8M444.7 154.8L589.4 112.5L701 169.4M444.7 130.4L589.4 88.1L701 145M444.7 106L589.4 63.7L701 120.6M444.7 81.6L589.4 39.3L701 96.2M589.4 161.3L444.7 203.6M610.3 172L465.6 214.3M631.2 182.6L486.6 224.9M652.2 193.3L507.5 235.6M673.1 204L528.4 246.3M694 214.6L549.3 256.9M589.4 161.3L701 218.2M562.3 169.2L673.9 226.1M535.1 177.2L646.7 234.1M508 185.1L619.6 242M480.9 193L592.5 249.9M453.7 201L565.3 257.9"/><path class="gv" d="M589.4 39.3L589.4 161.3M562.3 47.2L562.3 169.2M535.1 55.2L535.1 177.2M508 63.1L508 185.1M480.9 71L480.9 193M453.7 79L453.7 201M589.4 39.3L589.4 161.3M610.3 50L610.3 172M631.2 60.6L631.2 182.6M652.2 71.3L652.2 193.3M673.1 82L673.1 204M694 92.6L694 214.6"/>
<path fill="#1a1a95" d="M589.4 61.5l4.5 5.9l5 7.4l3.9 6.3l2.8 5.1l5.6 12.1l13.4 34.5l4.5 10.6l3.3 7.4l3.4 6.5l4.4 7.7l5.6 8.9l6.7 10l2.3 2.9l5 5.9l2.2 2.2l2.3 1.8l5 3.2l5 2.9l26.3 13.6l.2 .3l-144.1 42.1l-.7 0l-48-24.6l-63.2-32.9l22.2-7.4l14.5-5.2l13-5.3l11.6-5.3l10.1-5.4l9.5-5.9l8.6-6.5l8-7.1l7.3-7.7l3.6-4.4l3.6-4.8l6.5-9.9l5.8-10.5l5.8-12.4l5.1-12.7l5.1-14.7l4.3-14.6z"/>
<path fill="#1a1aa3" d="M661.3 193.8l-11 2l-13.4 2.1l-28.7 3l-8.8 .7l-9.1 .3l-10.5 .1l-11.7-.2l-21.9-.7l-14.6-.7l-8.9-.8l-9.4-1.1l-7.3-1.3l-8-1.8l-10.3-3.2l-8.2-2.9l10.9-4.2l11.6-5l9.6-4.9l9.1-5.2l7.9-5.3l7.3-5.7l6.7-6l6.6-7.1l6.1-7.5l5.4-7.9l5.5-9.1l4.9-9.4l4.2-9.4l4.2-10.6l4.9-13.8l4.8-16.1l.5-.2l5.2 6.9l5.1 7.7l3.8 6.3l3.2 6.3l4.7 10.5l12.2 31.4l3.2 7.9l4.7 10.6l3.8 7.4l6.5 11.2l9.4 14.3l3.2 4.4l6.6 7.4z"/>
<path fill="#1a1ab0" d="M658.7 191l-.9 .3l-8.6 1.2l-14.9 1.6l-13.2 1.3l-10.1 .7l-10.1 .2l-10.7 0l-31.6-.8l-19-1.2l-9-1l-7.7-1.1l-6.7-1.4l-6.6-1.7l-9.7-3.1l-6.4-2.3l0 .1l9.1-4l9.7-4.9l8.4-4.9l7.3-4.9l6.7-5l6.6-5.9l6.1-6.2l6-7.1l5.4-7.5l4.9-7.7l4.8-8.7l4.3-8.7l4.2-9.8l3.6-9.4l4.3-12.4l4.2-14.1l.5-.8l5.2 6.9l5.6 8.3l3.7 6.4l3.3 6.4l4.6 10.6l14.5 37l4.7 10.7l3.7 7.5l6.1 10.6l8.8 13.8l3.8 5.3l5.1 6.1z"/>
<path fill="#1a1abe" d="M656.4 188.3l-2.6 .5l-21.4 2.1l-9.6 .7l-9 .4l-10.6 .1l-11.8-.2l-20.8-.6l-13.9-.7l-6.9-.5l-7.7-.9l-7.9-1l-5.8-1.1l-5.4-1.3l-6.3-1.7l-8.7-2.8l-5-1.9l0 .2l6.7-3.3l9.1-5.1l7.2-4.7l6.7-4.9l6-5l6.1-5.9l5.5-6l5.4-6.9l4.9-7l4.8-8l4.2-8l4.3-8.9l3.6-8.7l3.7-9.6l4.2-12.6l3.6-12.2l.6-1.1l5.1 6.9l5.6 8.4l3.8 6.3l3.2 6.4l4.7 10.6l14.5 37.1l4.2 9.7l3.7 7.7l4.7 8.3l6.1 9.8l7 10.6l4.2 5.3z"/>
<path fill="#1a1acc" d="M654.3 185.7l-.9 .2l-4.2 .5l-14.2 1.3l-8.4 .5l-9.5 .2l-13.8 0l-20.3-.6l-22.3-1.1l-7.3-.6l-8.1-1l-5.1-.8l-5.7-1.1l-5.3-1.2l-6.3-1.8l-8.1-2.7l-4.6-1.7l0 .2l5.5-3l8.5-5.2l6.6-4.7l6.1-4.9l5.5-5l5.4-5.7l4.9-5.7l4.8-6.5l4.9-7.4l4.2-7.3l4.3-8.3l3.6-7.9l3.7-8.8l3-8.1l4.3-12.7l3.6-12.3l.5-.7l5.2 6.9l5.1 7.7l3.8 6.2l3.3 6.4l4.6 10.4l14.6 37.2l4.2 9.8l3.7 7.8l3.8 6.8l4.7 7.8l7.9 12.2l3.8 5.2z"/>
<path fill="#1a1ad9" d="M652.5 183.3l-.9 .2l-2.4 .3l-12.2 .9l-8.6 .4l-9 .1l-12.4-.1l-20.3-.6l-21-1l-14.6-1.6l-10.3-1.8l-9.7-2.5l-9.6-3l-5.5-2l0 .2l6.6-4l6.1-4.2l6.1-4.6l5.4-4.8l5.5-5.4l4.8-5.4l4.9-6.2l4.2-6l4.3-6.8l4.2-7.6l4.3-8.6l3.6-8.3l3.6-9.2l3.1-8.4l3.6-11.2l3-10.4l.5 .3l2.8 3.7l5.6 8.1l3.8 5.9l3.3 5.8l5.6 12l13.5 34.9l4.7 11.1l3.3 7.2l3.7 7.2l4.2 7.3l5.2 8.1l7 10.6z"/>
<path fill="#1a1ae7" d="M650.9 180.9l-2.1 .4l-10.7 .7l-18 .3l-30.9-.8l-20.1-1.1l-14.5-1.6l-9.5-1.7l-9.2-2.4l-9.1-2.9l-6-2.2l0 .3l6.1-4l6.1-4.5l5.5-4.6l4.8-4.6l4.9-5.1l4.8-5.8l4.3-5.7l4.2-6.4l3.7-6l3.6-6.8l3.7-7.5l3.6-8.3l3.7-9.2l3-8.5l6.7-21.3l4.2 5.6l5.2 7.5l3.7 6l2.8 5.2l5.6 12.1l13.6 34.9l4.3 10.1l3.2 7.2l3.3 6.4l4.2 7.4l4.7 7.6l6.6 10z"/>
<path fill="#1a1af5" d="M649.4 178.6l-.9 .3l-10.4 .5l-17.6 .1l-29.4-.8l-19.3-1.2l-13.7-1.6l-9.4-1.7l-5.2-1.3l-5.8-1.6l-8.1-2.7l-4.6-1.7l0 .3l5.5-3.9l5.4-4.3l4.9-4.3l4.9-4.9l4.8-5.4l4.3-5.3l4.2-6l3.7-5.7l3.6-6.2l3.7-7l3.6-7.7l3.6-8.6l3.1-7.9l3-8.6l3.1-9.5l3-10.4l4.7 6.2l5.1 7.6l3.8 6.1l2.8 5.2l5.2 11.1l13.5 35l7.1 16.3l3.3 6.6l4.2 7.5l4.2 6.8l6.1 9.4z"/>
<path fill="#1a26f5" d="M647.9 176.3l-.9 .3l-9.4 .3l-17.9-.1l-26.8-.8l-12.9-.7l-6.7-.6l-12.8-1.6l-8.7-1.6l-10.9-3l-8.1-2.6l-4.2-1.6l0 .4l5.5-4.2l4.9-4.1l4.8-4.7l4.3-4.5l4.2-5l4.3-5.6l3.6-5.3l3.7-5.8l3.6-6.5l3-6l3.7-7.8l3-7.2l3-7.9l3.1-8.6l3-9.5l3.1-10.3l.4 .3l3.3 4.4l5.6 8.1l3.8 6l3.3 6l2.8 5.8l2.8 6.4l13.1 33.8l7 16.3l2.8 5.7l4.2 7.6l4.2 7l5.2 7.9z"/>
<path fill="#1a33f5" d="M646.4 174l-.9 .3l-8.6 .2l-18.4-.3l-24-.8l-12.1-.6l-7.3-.7l-12-1.5l-8.5-1.7l-10.9-3l-7.6-2.5l-4.2-1.6l0 .4l4.9-3.9l4.2-3.8l4.3-4.3l4.2-4.7l4.3-5.2l3.7-4.9l3.6-5.5l3.7-6l3.6-6.6l3-6.1l3.1-6.7l3-7.3l5.5-14.9l3-9.4l3.1-10.3l.5-.8l4.7 6.2l5.2 7.6l3.7 6.2l2.8 5.3l5.2 11.2l13.1 33.9l6.6 15.4l2.8 5.8l3.8 6.9l4.2 7.1l4.7 7.4z"/>
<path fill="#1a3ff5" d="M644.9 171.8l-.9 .2l-10.9 .1l-26.4-.7l-19-.9l-10.4-.9l-11.2-1.4l-8.6-1.7l-10.8-3l-8.1-2.7l-3.8-1.4l0 .5l4.9-4.2l4.3-4.1l4.2-4.6l3.7-4.2l3.6-4.7l3.7-5.2l3.6-5.7l3.1-5.2l6.1-11.9l3-6.8l3-7.4l5.5-15.1l5.5-17.8l.6-1.3l4.6 6.3l5.2 7.5l3.8 6.2l2.8 5.3l5.1 11.2l13.2 33.8l6.5 15.4l2.9 5.9l3.2 6.1l8 13.1z"/>
<path fill="#1a4cf5" d="M643.5 169.5l-.9 .3l-9.3-.1l-27.4-.7l-17.1-.9l-10.2-.9l-10.5-1.4l-7.9-1.6l-10.9-3l-8.1-2.7l-3.7-1.4l0 .5l4.3-3.8l4.2-4.3l3.7-4.1l3.6-4.4l6.7-9.3l3.6-5.8l3.1-5.4l6-12.1l5.5-12.9l4.8-13.3l3.1-9.4l3-10.3l.6-.7l4.6 6.3l5.2 7.6l3.7 6.1l3.3 6.2l4.7 10.3l13.1 33.8l6.1 14.3l2.8 6l2.8 5.3l7.5 12.6z"/>
<path fill="#1a59f5" d="M642.1 167.3l-.9 .2l-7.3 0l-27.2-.8l-16.2-.9l-10.1-.9l-9.8-1.4l-8.5-1.7l-10.8-3l-8-2.7l-3.3-1.2l0 .5l4.2-4.1l3.7-3.8l3.6-4.3l3.6-4.6l3.7-5.1l3-4.7l6.1-10.6l5.5-11.2l5.4-13.1l5.5-15.4l4.8-16.1l.6-.6l4.6 6.3l5.2 7.6l3.7 6.1l3.3 6.2l5.2 11.5l12.6 32.6l5.6 13.3l5.2 10.6l7 12.1z"/>
<path fill="#1a65f5" d="M640.8 165.1l-.9 .2l-4.4 0l-27.4-.8l-15.3-.9l-10.8-1l-9.1-1.2l-8.5-1.8l-10.8-3l-8.1-2.6l-3.3-1.3l0 .6l7.3-7.7l6.7-8.5l6.1-9.1l6.1-10.7l5.5-11.4l4.8-11.8l4.3-11.7l3-9.4l3.1-10.3l.5-.9l4.7 6.2l5.2 7.6l3.7 6.2l3.3 6.2l5.2 11.5l12.6 32.7l5.2 12.2l4.7 9.9l6.6 11.6z"/>
<path fill="#1a72f5" d="M639.5 162.9l-.9 .3l-2.3-.1l-27.7-.8l-14.5-.9l-10.7-1l-9-1.3l-7.9-1.6l-10.8-3l-7.6-2.5l-3.8-1.5l0 .7l6.7-7.4l6.7-8.8l6.1-9.4l6.1-11.2l5.4-11.8l4.9-12.3l4.8-14.2l4.3-14.2l.5 .1l2.3 3l6.6 9.4l4.2 6.8l3.8 7.1l4.6 10.4l12.7 32.6l5.1 12.3l4.7 10l5.7 10.1z"/>
<path fill="#1a7ef5" d="M638.2 160.7l-.9 .3l-27.6-.9l-14.4-.8l-10.6-1.1l-8.4-1.2l-7.9-1.6l-10.7-3l-8.1-2.7l-3.3-1.3l0 .7l6.7-7.7l6.1-8.4l6.1-9.8l5.4-10.3l4.9-10.7l4.8-12.4l4.3-12.3l4.9-15.9l4.6 6.2l5.7 8.3l3.7 6.2l3.3 6.3l4.7 10.4l12.6 32.7l4.3 10.1l4.7 10.3l5.1 9.5z"/>
<path fill="#1a8bf5" d="M637 158.6l-.9 .3l-26.2-.9l-13.5-.8l-11.8-1.3l-7-1.1l-7.8-1.6l-10.7-3l-7.7-2.6l-3.2-1.2l0 .7l6-7.3l6.1-8.7l5.5-9.1l4.9-9.3l4.9-10.7l4.8-12.4l3.7-10.6l4.9-16l.5-1.3l4.7 6.2l5.7 8.4l3.7 6.2l3.3 6.4l4.7 10.5l12.2 31.5l4.3 10.3l4.7 10.3l4.2 8z"/>
<path fill="#1a98f5" d="M635.9 156.5l-1 .2l-24.1-.8l-12.6-.8l-12.6-1.3l-8-1.3l-8.7-2l-10.4-3.1l-8.6-3.1l0 .8l6.1-7.6l5.4-8.1l5.5-9.3l4.9-9.7l4.9-11l4.2-11.1l4.3-12.6l4.2-14.2l5.2 6.9l5.6 8.4l3.8 6.3l3.2 6.4l4.7 10.6l12.2 31.5l3.3 8l4.2 9.5l4.3 8.3z"/>
<path fill="#1aa4f5" d="M634.7 154.4l-.9 .2l-9-.2l-19.6-.9l-9-.7l-9.6-1.1l-8-1.3l-8.5-2l-10.4-3.1l-8.2-3l0 .9l5.5-7.2l5.5-8.3l4.8-8.4l4.9-9.8l4.9-11.1l4.2-11.3l4.3-12.7l3.6-12.3l.5-.2l1 1.2l7.5 10.6l4.7 7.5l3.7 7l5.2 11.5l12.2 31.5l2.8 6.9l4.2 9.7l3.7 7.6z"/>
<path fill="#1ab1f5" d="M633.7 152.3l-.9 .3l-7.5-.2l-19.3-.9l-9-.8l-9.5-1.1l-7.9-1.3l-8-1.9l-10.3-3.1l-8.2-2.9l0 .8l5.5-7.4l4.8-7.6l4.9-8.8l4.3-8.6l4.2-9.9l4.3-11.1l4.3-12.7l3.6-12.2l.6-1.2l5.1 6.9l5.7 8.4l3.7 6.4l3.3 6.5l4.7 10.6l13.6 35l4.2 9.9l3.8 8z"/>
<path fill="#1abdf5" d="M632.7 150.3l-.9 .3l-6.2-.2l-18.9-.9l-8.9-.8l-9.5-1.2l-7.8-1.3l-7.4-1.8l-10.4-3.1l-8.1-2.9l0 .9l4.9-6.8l4.8-7.9l4.9-8.9l4.3-9l4.3-10.1l4.3-11.5l3.6-11.1l3.7-12.4l4.7 6.1l5.6 8.4l4.3 7.1l3.3 6.4l4.7 10.7l13.2 33.9l4.2 10l3.3 7.2z"/>
<path fill="#1acaf5" d="M631.8 148.3l-.9 .3l-4.8-.2l-18.8-.9l-8.8-.8l-9.4-1.2l-7.7-1.4l-7.4-1.7l-10.3-3.2l-7.7-2.7l0 .9l4.9-7.1l4.8-8.1l4.3-8.1l4.3-9.1l4.2-10.3l3.7-10l3-9.2l4.3-13.9l5.1 6.9l5.7 8.4l3.7 6.4l3.3 6.4l4.7 10.7l12.7 32.7l7.1 16.3z"/>
<path fill="#1ad7f5" d="M630.9 146.3l-.9 .3l-2.6-.1l-18.8-.9l-8.8-.8l-9.3-1.2l-7.8-1.4l-7.3-1.7l-10.3-3.2l-7.8-2.8l0 1.1l4.9-7.4l4.3-7.3l4.2-8.2l3.7-8l3.6-8.8l3.7-9.8l3.6-10.9l3.7-12.2l.6-1.3l5.1 6.9l5.7 8.4l3.7 6.4l3.3 6.4l4.2 9.6l12.7 32.7l6.6 15.4z"/>
<path fill="#1ae3f5" d="M630 144.3l-.9 .3l-1.2 0l-18.7-1l-8.8-.8l-9.3-1.2l-7.6-1.4l-7.3-1.8l-10.3-3.1l-7.3-2.7l0 1.1l4.3-6.6l4.2-7.5l4.3-8.4l3.7-8l3.6-9l3.1-8.3l3.6-10.9l3.7-12.3l.5-.9l5.2 6.9l5.1 7.7l3.8 6.2l3.3 6.4l4.7 10.5l12.7 32.7l5.6 13.4z"/>
<path fill="#1ae3e6" d="M629.2 142.4l-1 .2l-18.6-.9l-8.6-.9l-9.3-1.2l-7.6-1.4l-6.7-1.7l-10.3-3.1l-7.2-2.6l0 1.1l4.2-6.9l3.7-6.5l3.6-7.3l3.7-8.1l3.7-9l3-8.3l3.7-11l3.6-12.3l.6-.7l5.1 7l5.2 7.7l3.8 6.2l3.3 6.4l4.7 10.6l12.2 31.6l5.2 12.3z"/>
<path fill="#1ae3d5" d="M628.3 140.4l-.9 .3l-16.6-.9l-8.6-.8l-9.3-1.2l-7.6-1.5l-7.2-1.8l-9.8-3l-7.3-2.6l0 1.1l3.7-6l3.7-6.7l3.6-7.4l3.7-8.2l3.1-7.6l3-8.3l3.7-11.1l3.6-12.3l.6-.6l5.2 7l5.1 7.7l3.8 6.3l3.3 6.5l4.7 10.6l12.3 31.6l4.2 10.2z"/>
<path fill="#1ae3c2" d="M627.5 138.5l-.9 .3l-15.4-.9l-8.6-.9l-9.2-1.2l-7.5-1.5l-6.7-1.6l-10.2-3.2l-6.8-2.5l0 1.2l3.6-6.2l3.7-6.8l3.6-7.6l3.7-8.5l3-7.8l3.1-8.5l6.6-21.2l4.7 6.3l5.6 8.3l3.8 6.2l3.3 6.3l4.7 10.5l12.1 31.5l3.8 9.1z"/>
<path fill="#1ae3ac" d="M626.7 136.6l-.9 .2l-13.5-.8l-8.6-.8l-9.2-1.3l-7.5-1.4l-6.7-1.7l-9.8-3l-7.2-2.6l0 1.2l3.6-6.4l3.7-7.1l3.7-7.9l3-7.3l3.1-7.9l3-8.7l6.1-19.5l4.7 6.3l5.7 8.3l3.7 6.3l3.3 6.4l4.7 10.5l15.1 38.5z"/>
<path fill="#1ae391" d="M625.9 134.6l-.9 .3l-12.4-.8l-8.5-.8l-8.5-1.2l-7.5-1.4l-6.7-1.7l-9.8-3l-7.3-2.7l0 1.3l3.7-6.5l3-6.1l3.7-7.9l3-7.4l3.1-8l3-8.8l5.5-18l.5 .1l1.4 1.8l7 9.9l4.2 6.7l3.8 7l3.3 6.9l2.3 5.5l14.1 36.2z"/>
<path fill="#20e375" d="M625.1 132.7l-.9 .3l-10.6-.7l-8.5-.9l-9.1-1.2l-7.4-1.5l-6.7-1.7l-9.7-3l-6.8-2.5l0 1.4l3.6-6.8l3.1-6.3l3-6.8l3.1-7.5l5.5-15.3l5.5-18l.5-.3l.5 .6l7.5 10.5l4.8 7.5l3.7 7l5.2 11.4l13.7 35.1z"/>
<path fill="#36e360" d="M624.4 130.8l-1 .2l-9.5-.6l-7.8-.8l-9.1-1.2l-7.5-1.5l-6.6-1.7l-9.7-3l-6.8-2.5l0 1.4l6.1-12.1l3-6.9l3.1-7.5l4.8-13.6l6.1-19.4l4.7 6.3l5.2 7.6l3.8 6.2l3.3 6.2l5.1 11.5l12.8 32.8z"/>
<path fill="#4be34b" d="M623.6 128.9l-.9 .3l-9.3-.7l-7.7-.8l-8.4-1.2l-7.3-1.5l-6.1-1.6l-10.2-3.2l-6.4-2.3l0 1.4l6.1-12.4l5.5-13.2l5.5-15.5l4.9-16.2l.5 0l.9 1.2l7.1 9.8l4.2 6.7l3.8 6.8l3.2 6.9l2.4 5.4l12.2 31.6z"/>
<path fill="#60e336" d="M622.9 127l-.9 .3l-7.7-.6l-7.7-.8l-8.4-1.2l-7.3-1.5l-6.1-1.6l-10.2-3.2l-6.4-2.3l0 1.5l5.5-11.4l5.5-13.3l4.9-13.8l4.9-16l.5-1.4l4.7 6.2l5.2 7.6l3.8 6.2l2.8 5.3l3.3 6.9l2.3 5.5l11.3 29.1z"/>
<path fill="#75e320" d="M622.2 125.1l-.9 .3l-6.8-.6l-15.4-1.9l-7.3-1.5l-6.1-1.6l-10.2-3.2l-6.4-2.3l0 1.5l5.5-11.6l4.9-12.1l4.9-13.9l4.9-16.2l.5 0l.9 1.2l7.1 9.8l4.2 6.7l3.8 6.8l3.2 6.9l2.4 5.4l10.8 27.8z"/>
<path fill="#91e31a" d="M621.5 123.2l-.9 .3l-6.7-.6l-14.5-1.9l-6.7-1.4l-6.6-1.7l-9.7-3l-6.4-2.4l0 1.6l4.9-10.5l4.9-12.2l4.2-12.2l5.5-17.6l4.7 6.3l5.2 7.6l3.8 6.2l2.8 5.3l5.2 11.2l10.3 26.5z"/>
<path fill="#ace31a" d="M620.8 121.3l-.9 .3l-9.3-.9l-8.5-1.2l-6.4-1.2l-5.3-1.2l-5.9-1.7l-9-2.9l-4.6-1.7l0 1.6l4.8-10.8l4.3-10.9l4.9-14.2l4.3-14.2l.5-.4l4.2 5.6l5.2 7.6l3.8 6.1l2.8 5.2l5.2 11.2l9.9 25.2z"/>
<path fill="#c2e31a" d="M620.1 119.5l-.9 .2l-9.1-.9l-7.8-1.1l-6.3-1.3l-5.3-1.2l-6.3-1.8l-8.1-2.7l-4.6-1.7l0 1.7l4.9-11.1l4.3-11.1l4.2-12.7l4.3-14.3l4.3 5.6l5.1 7.6l3.8 6l2.8 5.2l2.9 5.8l2.8 6.4l9 22.8z"/>
<path fill="#d5e31a" d="M619.3 117.6l-.9 .2l-9.5-1.1l-6.4-.9l-6.3-1.2l-5.2-1.3l-5.8-1.7l-8.1-2.6l-4.6-1.8l0 1.7l4.3-9.8l4.3-11.2l4.2-12.7l3.7-12.3l.6-1.2l4.2 5.7l4.8 6.8l3.7 6.1l2.9 5.1l5.6 12l8.5 21.6z"/>
<path fill="#e6e31a" d="M618.6 115.7l-.9 .2l-9.4-1.1l-5.6-.9l-6.2-1.2l-10.9-3l-8.2-2.6l-4.1-1.6l0 1.7l4.3-10.1l4.3-11.5l3.6-11l3.7-12.5l.5-.2l5.7 7.7l5.2 7.8l3.8 6.5l2.8 5.6l3.4 7.3l8 20.3z"/>
<path fill="#f5e31a" d="M617.9 113.7l-.9 .3l-9.2-1.1l-4.9-.8l-6.2-1.3l-10.8-3l-8.1-2.6l-3.8-1.5l0 1.8l4.3-10.3l3.7-10l3.7-11.2l3.7-12.5l4.3 5.6l4.2 6.2l3.8 6l2.9 5l5.7 11.8l7.6 19.1z"/>
<path fill="#f5d71a" d="M617.1 111.8l-.9 .3l-8.3-1l-11-2.1l-10.8-3.1l-8-2.6l-3.3-1.3l0 1.8l3.7-9l3.7-10.1l7.3-23l4.3 5.6l4.3 6.2l3.8 6l2.9 5.1l2.8 5.7l2.9 6.3l6.6 16.7z"/>
<path fill="#f5ca1a" d="M616.4 109.9l-.9 .3l-7.5-1l-10.9-2.1l-10.7-3l-7.6-2.6l-3.3-1.2l0 1.9l3.7-9.2l3-8.4l3.1-9.2l4.2-13.8l3.8 5l4.2 6.1l3.8 5.8l2.8 4.9l2.8 5.5l3.3 7.2l6.2 15.3z"/>
<path fill="#f5bd1a" d="M615.6 108l-.9 .3l-6-.8l-10.9-2.1l-10.7-3.1l-7.6-2.5l-3.3-1.3l0 2l3.1-7.8l3-8.4l3.7-11.3l3.1-10.3l.5-.9l4.3 5.6l4.2 6.2l3.3 5.2l2.9 4.9l2.8 5.5l2.8 6.2l5.7 14z"/>
<path fill="#f5b11a" d="M614.9 106.1l-.9 .3l-5.2-.7l-10.8-2.2l-11.1-3.2l-10-3.5l0 2l3.1-7.9l3-8.7l3.1-9.5l3.1-10.5l.5-.3l3.8 5l4.3 6.2l3.3 5.1l2.8 4.9l2.9 5.5l2.8 6.1l5.3 12.8z"/>
<path fill="#f5a41a" d="M614.1 104.2l-.9 .3l-4.4-.7l-10.7-2.1l-10.5-3.1l-10-3.5l0 2l3.1-8.1l3-8.9l5.6-18.3l.5 .2l.5 .6l5.2 7.2l4.8 7.1l3.3 5.6l2.9 5.5l2.8 6l4.8 11.6z"/>
<path fill="#f5981a" d="M613.4 102.3l-.9 .3l-3.7-.6l-10.5-2.2l-10.5-3.1l-9.6-3.3l0 2l5.5-15.3l5.5-18.1l.6-.1l4.7 6.4l4.7 6.9l3.8 6.2l2.3 4.3l2.9 5.8l2.3 5.2l2.9 7z"/>
<path fill="#f58b1a" d="M612.6 100.4l-.9 .3l-2.8-.5l-10.5-2.2l-10.4-3.1l-9.1-3.3l0 2.2l5.5-15.7l4.9-16.4l1 .9l4.7 6.5l4.3 6.3l3.3 5.4l2.4 4.3l2.9 5.7l4.7 11z"/>
<path fill="#f57e1a" d="M611.8 98.5l-.9 .2l-2-.3l-10.4-2.3l-10.4-3.1l-8.6-3.1l0 2.2l5-14.2l4.9-16.4l7.2 9.8l6.2 9.7l4.2 8.1l4.8 10.7z"/>
<path fill="#f5721a" d="M611 96.5l-.9 .3l-.6-.1l-10.8-2.4l-10.4-3.2l-8.2-2.9l0 2.2l4.4-12.5l4.9-16.4l6.7 9.2l6.3 9.6l4.3 8.1l4.3 9.4z"/>
<path fill="#f5651a" d="M610.1 94.5l-.9 .3l-10.4-2.4l-9.9-3l-8.2-2.9l0 2.3l4.4-12.9l4.3-14.3l5.8 7.7l6.3 9.5l4.3 7.8l4.3 9.2z"/>
<path fill="#f5591a" d="M609.2 92.6l-.9 .2l-9.4-2.2l-9.8-3l-7.8-2.8l0 2.3l3.8-11.1l4.3-14.4l5.8 7.7l5.8 8.8l3.9 6.7l4.3 8.9z"/>
<path fill="#f54c1a" d="M608.3 90.6l-.9 .2l-8.9-2.2l-9.8-3l-6.8-2.5l0 2.4l3.8-11.4l3.7-12.6l5.3 7.1l5.8 8.7l3.9 6.6l3.9 7.8z"/>
<path fill="#f53f1a" d="M607.3 88.5l-.9 .3l-7.8-2l-9.7-3l-6.4-2.4l0 2.4l3.8-11.5l3.1-10.7l4.8 6.3l5.8 8.6l3.9 6.5l3.4 6.6z"/>
<path fill="#f5331a" d="M606.3 86.5l-.9 .2l-6.8-1.7l-9.6-3.1l-6-2.2l0 2.5l3.2-9.7l3.1-10.7l.5 .2l2.4 3.2l6.3 9l4.4 7l3.4 6.3z"/>
<path fill="#f5261a" d="M605.2 84.4l-.9 .3l-5.6-1.5l-9.2-3l-5.9-2.1l0 2.4l5.6-18.4l.5-.2l6.8 9.3l4.8 7.4l3.9 6.8z"/>
<path fill="#f51a1a" d="M604 82.3l-.9 .2l-4.3-1.2l-9.2-2.9l-5.5-2l0 2.5l5-16.3l.5-.8l3.9 5.1l4.3 6.2l3.3 5.2l2.9 4.9z"/>
<path fill="#e71a1a" d="M602.7 80.1l-.9 .3l-3-.9l-9.1-2.9l-5-1.9l0 2.6l4.4-14.6l.5-.9l6.8 9.3l6.3 9.8z"/>
<path fill="#d91a1a" d="M601.4 77.9l-.9 .3l-1.1-.4l-9.2-2.9l-5-1.9l0 2.6l3.8-12.7l.6-1.2l5.9 8l5.9 9z"/>
<path fill="#cc1a1a" d="M599.9 75.6l-.9 .3l-8.7-2.8l-4.6-1.8l0 2.7l3.2-10.8l.6-1.5l5 6.6l5.4 8.1z"/>
<path fill="#be1a1a" d="M598.4 73.3l-.9 .3l-7.6-2.5l-3.7-1.4l0 2.7l3.2-10.9l4.5 6l4.5 6.5z"/>
<path fill="#b01a1a" d="M596.8 71l-.9 .3l-9.2-3.3l0 2.8l2.6-8.9l.5 .1l1 1.3l6 8.4z"/>
<path fill="#a31a1a" d="M595.2 68.6l-.9 .3l-7.1-2.6l0 2.8l1.9-6.7l.6-.5l5.5 7.4z"/>
<path fill="#951a1a" d="M593.4 66.2l-.9 .3l-4.8-1.8l0 2.8l1.4-4.8l.6-.8l3.7 4.9z"/>
<path fill="#871a1a" d="M591.6 63.8l-.9 .2l-2.6-1l0 2.9l1.4-4.3l2.1 2.7z"/>
<path fill="none" stroke="#000" stroke-opacity="0.5" stroke-width="0.5" d="M589.4 61.5l-4.5 15.1l-5.4 15.7l-5.5 13.2l-5.4 11.4l-5.4 9.7l-6.4 9.7l-3.6 4.8l-3.6 4.4l-7.2 7.7l-3.6 3.3l-4.6 3.9l-8.1 6.1l-9.1 5.7l-10.8 5.8l-11.8 5.4l-13.5 5.5l-16.3 5.8l-19.9 6.6M590.8 63.3l-4.5 15l-5.5 15.4l-5.4 13.2l-5.4 11.2l-5.4 9.7l-6.4 9.5l-3.6 4.8l-3.6 4.4l-7.2 7.6l-3.7 3.3l-4.5 3.9l-8.1 6l-9.1 5.7l-10.8 5.8l-11.8 5.4l-13.5 5.4l-16.3 5.8l-19.9 6.6M592.2 65.1l-4.5 14.8l-5.5 15.4l-5.4 13l-5.4 11.1l-5.4 9.5l-6.4 9.5l-3.6 4.8l-3.6 4.3l-7.2 7.5l-3.7 3.4l-4.5 3.8l-8.1 6l-9.1 5.6l-10.8 5.8l-11.8 5.3l-13.5 5.5l-16.3 5.8l-19.9 6.5M593.6 67l-4.5 14.7l-5.5 15.1l-5.4 12.9l-5.4 11l-5.4 9.5l-6.4 9.3l-3.6 4.7l-3.6 4.3l-7.2 7.5l-8.2 7.1l-8.1 5.9l-9.1 5.6l-10.8 5.8l-11.8 5.3l-13.5 5.4l-16.3 5.8l-19.9 6.5M595 69l-4.5 14.5l-5.5 14.9l-5.4 12.8l-5.4 10.8l-5.4 9.4l-6.4 9.3l-3.6 4.6l-3.6 4.2l-7.2 7.5l-8.2 7l-8.1 5.9l-9.1 5.5l-10.8 5.7l-11.8 5.4l-13.5 5.3l-16.3 5.8l-19.9 6.5M596.4 71l-4.5 14.3l-5.5 14.8l-5.4 12.6l-5.4 10.7l-5.5 9.2l-6.3 9.2l-3.6 4.6l-3.6 4.2l-7.3 7.4l-8.1 6.9l-8.1 5.8l-9.1 5.6l-10.8 5.6l-11.8 5.3l-13.5 5.4l-16.3 5.8l-19.9 6.5M597.8 73.1l-4.6 14.1l-5.4 14.5l-5.4 12.5l-5.4 10.6l-5.5 9.1l-6.3 9.1l-3.6 4.5l-3.6 4.2l-7.3 7.2l-8.1 6.9l-8.1 5.8l-9.1 5.5l-10.8 5.6l-11.8 5.3l-13.6 5.3l-16.2 5.8l-19.9 6.5M599.2 75.2l-4.6 13.9l-5.4 14.4l-5.4 12.2l-5.4 10.5l-5.5 9l-6.3 9l-3.6 4.4l-3.6 4.1l-7.3 7.2l-8.1 6.8l-8.1 5.8l-9.1 5.4l-10.8 5.6l-11.8 5.3l-13.6 5.3l-16.2 5.7l-19.9 6.5M600.6 77.3l-4.6 13.8l-5.4 14.1l-5.4 12.1l-5.4 10.3l-5.5 8.9l-6.3 8.9l-3.6 4.4l-3.6 4l-7.3 7.2l-8.1 6.7l-8.1 5.7l-9.1 5.4l-10.8 5.5l-11.8 5.2l-13.6 5.3l-16.2 5.8l-19.9 6.4M602 79.6l-4.6 13.5l-5.4 14l-5.4 11.8l-5.4 10.2l-5.5 8.8l-6.3 8.7l-3.6 4.4l-3.6 4l-7.3 7l-8.1 6.6l-8.2 5.7l-9 5.3l-10.8 5.5l-11.8 5.2l-13.6 5.3l-16.2 5.7l-19.9 6.5M603.4 82l-4.6 13.3l-5.4 13.7l-5.4 11.7l-5.5 10l-5.4 8.6l-6.3 8.6l-3.6 4.3l-3.6 3.9l-7.3 7l-8.1 6.5l-8.2 5.6l-9 5.3l-10.9 5.5l-11.7 5.1l-13.6 5.2l-16.3 5.7l-19.8 6.5M604.7 84.6l-4.5 13l-5.4 13.4l-5.4 11.5l-5.5 9.8l-5.4 8.5l-6.3 8.4l-3.6 4.2l-3.6 3.9l-7.3 6.8l-8.1 6.5l-8.2 5.5l-9 5.3l-10.9 5.4l-11.7 5.1l-13.6 5.2l-16.3 5.7l-19.9 6.4M606.1 87.3l-4.5 12.7l-5.4 13.1l-5.4 11.3l-5.5 9.6l-5.4 8.3l-6.3 8.3l-7.3 8l-7.2 6.7l-8.1 6.3l-8.2 5.5l-9 5.2l-10.9 5.3l-11.7 5.1l-13.6 5.2l-16.3 5.6l-19.9 6.4M607.5 90.1l-4.5 12.4l-5.4 12.9l-5.4 11l-5.5 9.4l-5.4 8.1l-6.3 8.1l-7.3 7.8l-7.2 6.6l-8.1 6.3l-8.2 5.3l-9 5.2l-10.9 5.3l-11.7 5l-13.6 5.1l-16.3 5.7l-19.9 6.4M608.9 93.1l-4.5 12.1l-5.4 12.5l-5.4 10.7l-5.5 9.2l-5.4 8l-6.3 7.9l-7.3 7.6l-7.2 6.5l-8.1 6.2l-8.2 5.2l-9 5.1l-10.9 5.2l-11.7 5l-13.6 5.1l-16.3 5.6l-19.9 6.4M610.3 96.2l-4.5 11.8l-5.4 12.2l-5.4 10.4l-5.5 8.9l-5.4 7.8l-6.3 7.7l-7.3 7.5l-7.2 6.3l-8.1 6.1l-8.2 5.1l-9 5l-10.9 5.2l-11.7 4.9l-13.6 5.1l-16.3 5.6l-19.9 6.3M611.7 99.6l-4.5 11.4l-5.4 11.8l-5.5 10.1l-5.4 8.7l-5.4 7.5l-6.3 7.5l-7.3 7.3l-7.2 6.2l-8.1 5.9l-8.2 5l-9 4.9l-10.9 5.1l-11.7 4.9l-13.6 5.1l-16.3 5.5l-19.9 6.4M613.1 103.1l-4.5 11l-5.4 11.4l-5.5 9.8l-5.4 8.4l-5.4 7.3l-6.3 7.3l-7.3 7l-7.2 6.1l-8.2 5.7l-8.1 5l-9 4.8l-10.9 5l-11.7 4.8l-13.6 5l-16.3 5.6l-19.9 6.3M614.5 106.7l-4.5 10.5l-5.4 11l-5.5 9.5l-5.4 8.1l-5.4 7l-6.3 7.1l-7.3 6.9l-7.2 5.9l-8.2 5.6l-8.1 4.8l-9 4.8l-10.9 4.9l-11.7 4.8l-13.6 4.9l-16.3 5.5l-19.9 6.3M615.9 110.2l-4.5 10.2l-5.4 10.6l-5.5 9.1l-5.4 7.8l-5.4 6.8l-6.4 6.9l-7.2 6.7l-7.2 5.7l-8.2 5.4l-8.1 4.8l-9 4.6l-10.9 4.9l-11.8 4.7l-13.5 4.9l-16.3 5.5l-19.9 6.3M617.3 113.7l-4.5 9.8l-5.4 10.2l-5.5 8.8l-5.4 7.5l-5.4 6.6l-6.4 6.7l-7.2 6.4l-7.2 5.6l-8.2 5.3l-8.1 4.7l-9.1 4.5l-10.8 4.8l-11.8 4.6l-13.5 4.9l-16.3 5.4l-19.9 6.3M618.7 117.3l-4.5 9.4l-5.5 9.8l-5.4 8.4l-5.4 7.3l-5.4 6.3l-6.4 6.4l-7.2 6.3l-7.2 5.4l-8.2 5.2l-8.1 4.5l-9.1 4.4l-10.8 4.8l-11.8 4.6l-13.5 4.8l-16.3 5.4l-19.9 6.2M620.1 121l-4.5 8.9l-5.5 9.4l-5.4 8.1l-5.4 7l-5.4 6.1l-6.4 6.1l-7.2 6.1l-7.2 5.2l-8.2 5l-8.1 4.5l-9.1 4.3l-10.8 4.7l-11.8 4.5l-13.5 4.8l-16.3 5.3l-19.9 6.3M621.5 124.7l-4.5 8.5l-5.5 9l-5.4 7.7l-5.4 6.7l-5.4 5.8l-6.4 5.9l-7.2 5.9l-7.2 5l-8.2 4.9l-8.1 4.3l-9.1 4.3l-10.8 4.6l-11.8 4.4l-13.5 4.8l-16.3 5.3l-19.9 6.2M622.9 128.4l-4.5 8.1l-5.5 8.5l-5.4 7.4l-5.4 6.4l-5.4 5.6l-6.4 5.7l-7.2 5.6l-7.2 4.8l-8.2 4.8l-8.1 4.2l-9.1 4.2l-10.8 4.5l-11.8 4.4l-13.5 4.7l-16.3 5.3l-19.9 6.1M624.3 132l-4.5 7.7l-5.5 8.1l-5.4 7l-5.4 6.1l-5.5 5.4l-6.3 5.4l-7.2 5.5l-7.3 4.7l-8.1 4.6l-8.1 4.1l-9.1 4l-10.8 4.4l-11.8 4.4l-13.5 4.6l-36.2 11.5M625.7 135.4l-4.6 7.3l-5.4 7.8l-5.4 6.6l-5.4 5.9l-5.5 5.1l-6.3 5.3l-7.2 5.2l-7.3 4.5l-8.1 4.5l-8.1 4l-9.1 4l-10.8 4.3l-11.8 4.3l-13.6 4.6l-36.1 11.4M627.1 138.8l-4.6 6.9l-5.4 7.4l-5.4 6.3l-5.4 5.6l-5.5 4.9l-6.3 5.1l-7.2 5l-7.3 4.4l-8.1 4.3l-8.1 3.9l-9.1 3.9l-10.8 4.3l-11.8 4.2l-13.6 4.6l-36.1 11.3M628.5 142l-4.6 6.7l-5.4 6.9l-5.4 6.1l-5.4 5.3l-5.5 4.7l-6.3 4.8l-7.2 4.9l-7.3 4.2l-8.1 4.3l-8.1 3.8l-9.1 3.8l-10.8 4.2l-11.8 4.2l-13.6 4.5l-36.1 11.3M629.9 145.2l-4.6 6.3l-5.4 6.6l-5.4 5.8l-5.4 5l-5.5 4.5l-6.3 4.7l-7.2 4.6l-7.3 4.1l-8.1 4.2l-8.2 3.7l-9 3.7l-10.8 4.1l-11.8 4.2l-13.6 4.5l-36.1 11.2M631.2 148.3l-4.5 5.9l-5.4 6.3l-5.4 5.5l-5.5 4.8l-5.4 4.3l-6.3 4.5l-7.2 4.5l-7.3 3.9l-8.1 4l-8.2 3.7l-9 3.6l-10.9 4.1l-25.3 8.5l-36.1 11.2M632.6 151.2l-4.5 5.7l-5.4 5.9l-5.4 5.2l-5.5 4.7l-5.4 4.1l-6.3 4.2l-7.2 4.4l-7.3 3.8l-8.1 3.9l-8.2 3.5l-9 3.6l-10.9 4l-25.3 8.5l-36.2 11.1M634 154l-4.5 5.3l-5.4 5.7l-5.4 5l-5.5 4.4l-5.4 3.9l-6.3 4.1l-7.3 4.2l-7.2 3.8l-8.1 3.7l-8.2 3.5l-9 3.5l-10.9 4l-25.3 8.4l-36.2 11.1M635.4 156.6l-4.5 5.1l-5.4 5.4l-5.4 4.7l-5.5 4.3l-5.4 3.7l-6.3 4l-7.3 4l-7.2 3.7l-8.1 3.7l-8.2 3.3l-9 3.5l-10.9 3.9l-25.3 8.3l-36.2 11.1M636.8 159.2l-4.5 4.8l-5.4 5.1l-5.4 4.5l-5.5 4.1l-5.4 3.6l-6.3 3.8l-7.3 3.9l-7.2 3.5l-8.1 3.6l-8.2 3.4l-19.9 7.2l-25.3 8.3l-36.2 11M638.2 161.6l-4.5 4.6l-5.4 4.8l-5.4 4.4l-5.5 3.8l-5.4 3.5l-6.3 3.7l-7.3 3.8l-7.2 3.4l-8.1 3.5l-8.2 3.3l-19.9 7.1l-25.3 8.3l-36.2 11M639.6 164l-4.5 4.3l-5.4 4.6l-5.5 4.2l-5.4 3.7l-5.4 3.3l-6.3 3.6l-7.3 3.6l-7.2 3.4l-16.3 6.6l-19.9 7.1l-25.3 8.1l-36.2 11M641 166.3l-4.5 4.1l-5.4 4.4l-5.5 3.9l-5.4 3.6l-5.4 3.2l-6.3 3.4l-7.3 3.6l-7.2 3.2l-16.3 6.5l-19.9 7l-25.3 8.1l-36.2 10.9M642.4 168.5l-4.5 3.9l-5.4 4.2l-5.5 3.8l-5.4 3.4l-5.4 3.1l-6.3 3.3l-7.3 3.4l-7.2 3.1l-16.3 6.4l-19.9 6.9l-25.3 8l-36.2 10.9M643.8 170.8l-4.5 3.6l-5.4 4l-5.5 3.6l-5.4 3.2l-11.8 6.2l-14.4 6.4l-16.3 6.2l-19.9 6.8l-25.3 8l-36.2 10.8M645.2 172.9l-4.5 3.5l-5.4 3.8l-5.5 3.4l-5.4 3.1l-11.8 5.9l-14.4 6.2l-16.3 6.1l-19.9 6.7l-25.3 7.9l-36.2 10.9M646.6 175.1l-4.5 3.2l-5.5 3.6l-10.8 6.2l-11.8 5.7l-14.4 6l-16.3 5.9l-19.9 6.7l-25.3 7.9l-36.2 10.8M648 177.2l-4.5 3.1l-5.5 3.3l-10.8 5.9l-11.8 5.5l-14.4 5.8l-16.3 5.8l-19.9 6.6l-25.3 7.8l-36.2 10.8M649.4 179.3l-10 6.1l-10.8 5.5l-11.8 5.2l-14.4 5.7l-16.3 5.7l-19.9 6.5l-25.3 7.8l-36.2 10.7M650.8 181.4l-10 5.7l-10.8 5.2l-11.8 5l-14.4 5.5l-16.3 5.6l-19.9 6.4l-25.3 7.7l-36.2 10.8M652.2 183.4l-10 5.3l-10.8 5l-11.8 4.8l-14.5 5.3l-16.2 5.5l-19.9 6.3l-61.5 18.4M653.6 185.3l-10 5l-10.8 4.7l-11.8 4.6l-14.5 5.1l-16.2 5.4l-19.9 6.2l-61.5 18.4M655 187.1l-10 4.6l-10.8 4.5l-11.8 4.4l-14.5 5.1l-16.2 5.2l-19.9 6.2l-61.5 18.3M656.4 188.7l-10 4.4l-10.8 4.3l-11.8 4.3l-14.5 4.9l-36.1 11.3l-61.5 18.2M657.8 190.4l-10 4.1l-10.8 4.1l-11.8 4.1l-14.5 4.8l-36.1 11.2l-61.5 18.2M659.1 192l-9.9 3.8l-10.9 3.9l-26.2 8.7l-36.2 11l-61.4 18.2M660.5 193.4l-20.8 7.4l-26.2 8.4l-36.2 11l-61.5 18.1M661.9 194.8l-20.8 7.1l-26.2 8.2l-36.2 10.8l-61.5 18.1M663.3 196l-20.8 6.8l-26.2 8.1l-97.7 28.8M664.7 197l-20.8 6.7l-26.2 8l-97.7 28.7M666.1 197.9l-20.8 6.6l-26.2 7.9l-97.7 28.7M667.5 198.8l-47 14.4l-97.7 28.7M668.9 199.7l-47 14.2l-97.7 28.7M670.3 200.5l-47 14.1l-97.7 28.7M671.7 201.3l-47 14.1l-97.7 28.6M673.1 202.1l-47 14l-97.7 28.6M674.5 202.9l-144.7 42.5M675.9 203.6l-144.7 42.5M677.3 204.4l-144.7 42.4M678.7 205.1l-144.7 42.5M680.1 205.8l-144.7 42.5M681.5 206.6l-144.7 42.4M682.9 207.3l-144.7 42.4M684.3 208l-144.7 42.4M685.7 208.7l-144.7 42.4M687 209.5l-144.7 42.3M688.4 210.2l-144.7 42.3M689.8 210.9l-144.7 42.3M691.2 211.6l-144.7 42.4M692.6 212.3l-144.7 42.4M694 213.1l-144.7 42.3M695.4 213.8l-144.7 42.3M696.8 214.5l-144.7 42.3M698.2 215.2l-144.7 42.3M699.6 215.9l-144.7 42.3M701 216.6l-144.7 42.3M589.4 61.5l4.2 5.5l4.9 7.1l3.5 5.5l3.4 6.3l5.6 12l13.3 34.1l4.2 10l3.4 7.8l3.5 6.8l4.9 8.5l4.9 7.8l7 10.5l2.1 2.8l4.8 5.8l2.8 2.8l2.1 1.7l5.6 3.6l4.9 2.8l26.5 13.7M587.6 67.8l4.2 5.3l4.9 6.8l3.4 5.3l3.5 6l5.6 11.5l13.3 32.5l4.2 9.6l3.4 7.4l3.5 6.5l4.9 8.2l4.9 7.5l7 10.1l2.1 2.6l4.8 5.6l2.8 2.8l2.1 1.6l5.6 3.6l4.9 2.7l26.5 13.8M585.8 73.8l4.2 5.1l4.9 6.6l3.4 5.1l3.5 5.7l5.6 11l13.3 31l4.1 9.1l3.5 7.1l3.5 6.2l4.9 7.9l4.9 7.1l7 9.7l2 2.6l4.9 5.4l2.8 2.7l2.1 1.6l5.6 3.5l4.9 2.8l26.5 13.7M584 79.4l4.2 5l4.8 6.3l3.5 4.9l3.5 5.5l5.6 10.5l13.2 29.6l4.2 8.7l3.5 6.7l3.5 6l4.9 7.6l4.9 6.8l6.9 9.4l2.1 2.5l4.9 5.2l2.8 2.6l2.1 1.6l10.5 6.2l26.5 13.7M582.2 84.8l4.1 4.8l4.9 6l3.5 4.8l3.5 5.3l5.6 10l13.2 28.2l7.7 14.8l3.5 5.8l4.9 7.2l11.8 15.6l2.1 2.5l4.9 5l2.8 2.5l2.1 1.6l10.5 6.2l26.5 13.7M580.4 89.8l4.1 4.7l4.9 5.8l3.5 4.6l3.5 5.1l5.6 9.6l13.2 26.9l7.7 14.2l3.5 5.5l4.9 7l11.8 15.1l2.1 2.3l4.9 4.9l2.8 2.5l2.1 1.5l10.5 6.1l26.5 13.7M578.5 94.6l4.2 4.5l4.9 5.7l3.5 4.4l3.5 4.9l5.6 9.2l13.2 25.8l7.7 13.5l3.5 5.3l4.9 6.7l11.8 14.5l7 7l2.8 2.5l2.1 1.5l10.4 6l26.5 13.7M576.7 99.2l4.2 4.3l4.9 5.5l3.5 4.2l3.5 4.8l5.6 8.8l13.2 24.6l7.7 13l3.5 5.1l4.9 6.5l11.8 14l7 6.8l2.8 2.4l2.1 1.5l10.4 6l26.5 13.6M574.9 103.5l4.2 4.2l4.9 5.3l3.5 4.1l3.5 4.5l5.6 8.5l13.2 23.6l7.7 12.5l3.5 4.9l4.8 6.2l11.9 13.6l7 6.6l4.9 3.7l10.4 6l26.5 13.7M573.1 107.6l9.1 9.2l3.5 4l3.5 4.3l5.5 8.2l13.3 22.6l7.7 12l3.5 4.7l4.8 5.9l11.9 13.2l7 6.4l4.9 3.7l10.4 5.9l26.5 13.7M571.3 111.4l9.1 9l3.5 3.8l3.5 4.3l5.5 7.8l13.3 21.7l7.7 11.5l3.4 4.5l4.9 5.8l11.9 12.7l7 6.3l4.8 3.6l10.5 5.9l26.5 13.6M569.5 115.1l9.1 8.7l3.5 3.7l3.4 4.1l5.6 7.6l13.3 20.8l7.7 11l3.4 4.4l4.9 5.6l11.9 12.3l7 6.1l4.8 3.6l10.5 5.8l26.5 13.7M567.7 118.6l9.1 8.5l3.4 3.6l3.5 3.9l5.6 7.3l13.3 20l7.6 10.6l3.5 4.2l4.9 5.4l11.9 12l6.9 5.9l4.9 3.5l10.5 5.9l26.5 13.6M565.9 121.9l9.1 8.3l6.9 7.3l5.6 7l13.3 19.2l7.6 10.2l3.5 4.1l4.9 5.2l11.9 11.6l6.9 5.9l4.9 3.4l10.5 5.8l26.5 13.6M564.1 125.1l9 8l7 7.1l5.6 6.8l13.3 18.4l7.6 9.9l3.5 3.9l4.9 5.1l11.9 11.3l6.9 5.7l4.9 3.4l10.5 5.7l26.5 13.6M562.3 128.1l9 7.8l7 6.9l5.6 6.5l13.2 17.8l7.7 9.5l3.5 3.8l4.9 5l11.8 10.9l7 5.6l4.9 3.3l10.5 5.8l26.5 13.6M560.5 130.9l9 7.7l7 6.7l5.6 6.3l13.2 17.1l7.7 9.2l8.4 8.5l11.8 10.7l7 5.4l4.9 3.3l10.5 5.7l26.5 13.6M558.7 133.7l9 7.4l7 6.5l5.6 6.1l13.2 16.6l7.7 8.8l8.4 8.3l11.8 10.4l7 5.3l4.9 3.2l10.4 5.7l26.6 13.6M556.8 136.3l9.1 7.3l7 6.3l5.6 5.9l13.2 15.9l7.7 8.6l8.4 8l11.8 10.2l7 5.2l4.9 3.2l10.4 5.7l26.5 13.6M555 138.7l9.1 7.2l7 6.1l5.6 5.8l13.2 15.4l7.7 8.3l8.4 7.7l11.8 10l7 5.1l4.9 3.1l10.4 5.7l26.5 13.6M553.2 141.1l9.1 7l7 6l5.5 5.6l13.3 14.9l7.7 8l8.3 7.6l11.9 9.6l7 5.1l4.9 3.1l10.4 5.6l26.5 13.6M551.4 143.3l9.1 6.9l7 5.9l5.5 5.4l13.3 14.4l7.7 7.8l8.3 7.3l11.9 9.5l7 5l4.8 3l10.5 5.7l26.5 13.5M549.6 145.5l9.1 6.7l6.9 5.7l5.6 5.3l13.3 14l7.7 7.5l8.3 7.2l11.9 9.3l7 4.9l4.8 3l10.5 5.6l26.5 13.6M547.8 147.5l9.1 6.6l6.9 5.6l5.6 5.1l13.3 13.6l7.6 7.3l8.4 7.1l11.9 9l6.9 4.8l4.9 3l10.5 5.6l26.5 13.6M546 149.5l9.1 6.5l6.9 5.5l5.6 4.9l13.3 13.2l7.6 7.1l8.4 6.9l11.9 8.9l6.9 4.7l4.9 3l10.5 5.6l26.5 13.5M544.2 151.4l9 6.3l7 5.4l5.6 4.9l13.3 12.7l7.6 7l8.4 6.7l11.9 8.7l6.9 4.7l4.9 2.9l10.5 5.6l26.5 13.6M542.4 153.2l9 6.2l7 5.3l5.6 4.7l13.2 12.5l7.7 6.7l8.4 6.6l11.8 8.6l7 4.6l4.9 2.9l10.5 5.5l26.5 13.6M540.6 154.9l9 6.2l7 5.1l5.6 4.7l13.2 12l7.7 6.6l8.4 6.5l11.8 8.4l7 4.5l4.9 2.9l37 19.1M538.8 156.5l9 6.1l7 5.1l5.6 4.5l13.2 11.8l7.7 6.4l8.4 6.3l11.8 8.3l7 4.5l4.9 2.9l37 19M536.9 158.1l9.1 6l7 5l5.6 4.4l13.2 11.5l7.7 6.3l8.4 6.2l11.8 8.1l11.9 7.3l36.9 19.1M535.1 159.7l9.1 5.9l7 4.9l5.6 4.3l13.2 11.2l7.7 6.2l8.4 6l11.8 8.1l11.9 7.1l36.9 19.1M533.3 161.1l9.1 5.9l7 4.8l5.6 4.2l13.2 11l7.7 6l8.3 6l11.9 7.9l11.9 7.1l36.9 19M531.5 162.5l9.1 5.8l7 4.7l5.5 4.2l13.3 10.7l7.7 5.9l8.3 5.9l11.9 7.8l11.9 7l36.9 19.1M529.7 163.9l9.1 5.7l7 4.7l5.5 4l13.3 10.5l7.7 5.8l8.3 5.8l11.9 7.7l11.8 7l37 19M527.9 165.2l9.1 5.6l6.9 4.6l5.6 4.1l13.3 10.2l7.7 5.7l8.3 5.7l11.9 7.6l11.8 6.9l37 19M526.1 166.5l9.1 5.5l6.9 4.6l5.6 3.9l20.9 15.6l8.4 5.6l11.9 7.6l11.8 6.8l37 19M524.3 167.7l16 10l5.6 3.9l20.9 15.3l8.4 5.5l11.9 7.4l11.8 6.9l37 19M522.5 168.9l16 9.9l5.6 3.8l20.9 15l8.4 5.5l11.9 7.3l11.8 6.8l37 19M520.7 170l16 9.8l26.5 18.6l8.4 5.3l11.8 7.3l11.9 6.8l37 18.9M518.9 171.1l16 9.7l26.5 18.3l20.2 12.5l11.9 6.7l37 19M517 172.2l16.1 9.6l26.5 18l20.2 12.4l11.9 6.6l36.9 19M515.2 173.2l16.1 9.6l26.5 17.7l20.2 12.2l11.9 6.7l36.9 18.9M513.4 174.2l16.1 9.5l26.5 17.5l20.2 12.1l11.9 6.6l36.9 18.9M511.6 175.2l16.1 9.4l26.5 17.2l20.2 12.1l11.9 6.5l36.9 19M509.8 176.2l16.1 9.3l26.5 17l20.2 11.9l11.8 6.6l37 18.9M508 177.1l16 9.2l26.6 16.9l20.2 11.8l11.8 6.5l37 18.9M506.2 178l16 9.2l26.5 16.6l20.3 11.8l11.8 6.4l37 19M504.4 178.9l16 9.1l26.5 16.5l20.3 11.6l11.8 6.5l37 18.9M502.6 179.8l16 9l26.5 16.3l20.3 11.6l11.8 6.4l37 18.9M500.8 180.6l16 9l26.5 16.1l20.2 11.5l11.9 6.4l37 18.9M499 181.4l16 9l26.5 15.9l20.2 11.5l11.9 6.4l37 18.9M497.2 182.2l16 9l26.5 15.8l20.2 11.3l11.9 6.4l37 18.9M495.3 183l16.1 8.9l26.5 15.7l20.2 11.3l11.9 6.3l36.9 18.9M493.5 183.8l16.1 8.8l26.5 15.6l20.2 11.2l11.9 6.4l36.9 18.9M491.7 184.6l16.1 8.8l26.5 15.4l20.2 11.2l11.9 6.3l36.9 18.9M489.9 185.3l16.1 8.8l26.5 15.3l20.2 11.1l11.9 6.3l36.9 18.9M488.1 186.1l16.1 8.7l26.5 15.2l20.2 11.1l11.8 6.3l37 18.8M486.3 186.8l16 8.7l26.5 15.1l20.3 11l11.8 6.3l37 18.9M484.5 187.5l16 8.6l26.5 15.1l20.3 11l11.8 6.2l37 18.9M482.7 188.2l16 8.6l26.5 14.9l20.3 11l11.8 6.3l37 18.8M480.9 188.9l16 8.6l26.5 14.8l20.2 11l48.9 25.1M479.1 189.6l16 8.5l26.5 14.8l20.2 10.9l48.9 25.1M477.3 190.2l16 8.6l26.5 14.7l20.2 10.8l48.9 25.1M475.4 190.9l16.1 8.5l26.5 14.6l20.2 10.9l48.8 25M473.6 191.5l16.1 8.6l26.5 14.5l20.2 10.8l48.8 25.1M471.8 192.2l62.8 33.8l48.8 25M470 192.8l62.8 33.7l48.8 25M468.2 193.5l62.8 33.5l48.8 25.1M466.4 194.1l62.8 33.5l48.8 25M464.6 194.7l62.8 33.4l48.8 25M462.8 195.3l62.8 33.3l48.8 25.1M461 196l62.8 33.2l48.8 25M459.2 196.6l62.7 33.1l48.9 25M457.4 197.2l62.7 33l48.9 25M455.6 197.8l62.7 33l48.9 25M453.7 198.4l62.8 32.9l48.8 25M451.9 198.9l62.8 32.9l48.8 25M450.1 199.5l62.8 32.9l48.8 25M448.3 200.1l62.8 32.8l48.8 25M446.5 200.7l62.8 32.7l48.8 25M444.7 201.3l62.8 32.7l48.8 24.9"/>
<path class="ax" d="M444.7 81.6L444.7 203.6L556.3 260.5L701 218.2M448.7 202.4L442.7 204.2M469.6 213.1L463.6 214.9M490.5 223.8L484.6 225.5M511.5 234.4L505.5 236.2M532.4 245.1L526.4 246.9M553.3 255.8L547.3 257.5M697.9 216.6L702.5 219M670.8 224.6L675.4 226.9M643.7 232.5L648.3 234.8M616.5 240.4L621.1 242.8M589.4 248.4L594 250.7M562.3 256.3L566.9 258.6M440.9 201.7L444.7 203.6L448.8 202.4M440.9 177.3L444.7 179.2L448.8 178M440.9 152.9L444.7 154.8L448.8 153.6M440.9 128.5L444.7 130.4L448.8 129.2M440.9 104.1L444.7 106L448.8 104.8M440.9 79.7L444.7 81.6L448.8 80.4"/>
<text transform="translate(532.27 15.90) scale(0.966 1)" font-size="11.45" font-family='"Liberation Serif", serif'>Hall voltage value</text>
<text transform="translate(518.42 25.80) scale(1.320 1)" font-size="9.71" font-family='"Liberation Serif", serif'>θ</text>
<text transform="translate(524.59 31.40) scale(1.309 1)" font-size="7.82" font-family='"Liberation Serif", serif'>0</text>
<text transform="translate(531.12 25.80) scale(1.266 1)" font-size="10.70" font-family='"Liberation Serif", serif'>=</text>
<text transform="translate(541.32 25.80) scale(1.081 1)" font-size="10.68" font-family='"Liberation Serif", serif'>10</text>
<text transform="translate(552.35 20.50) scale(1.119 1)" font-size="7.87" font-family='"Liberation Serif", serif'>o</text>
<text transform="translate(559.93 25.80) scale(1.088 1)" font-size="9.78" font-family='"Liberation Serif", serif'>and</text>
<text transform="translate(578.56 25.90) scale(1.119 1)" font-size="10.69" font-family='"Liberation Serif", serif'>Z</text>
<text transform="translate(585.73 31.50) scale(1.187 1)" font-size="7.82" font-family='"Liberation Serif", serif'>0</text>
<text transform="translate(591.94 25.80) scale(1.226 1)" font-size="10.70" font-family='"Liberation Serif", serif'>=</text>
<text transform="translate(602.60 25.80) scale(1.061 1)" font-size="10.00" font-family='"Liberation Serif", serif'>15mm</text>
<text transform="translate(425.99 83.80) scale(1.045 1)" font-size="10.76" font-family='"Liberation Serif", serif'>2.5</text>
<text transform="translate(434.70 108.60) scale(0.981 1)" font-size="11.21" font-family='"Liberation Serif", serif'>2</text>
<text transform="translate(434.78 206.20) scale(0.968 1)" font-size="10.83" font-family='"Liberation Serif", serif'>0</text>
<text transform="translate(426.05 181.80) scale(1.034 1)" font-size="10.83" font-family='"Liberation Serif", serif'>0.5</text>
<text transform="translate(434.15 157.40) scale(1.136 1)" font-size="10.91" font-family='"Liberation Serif", serif'>1</text>
<text transform="translate(425.51 133.00) scale(1.067 1)" font-size="10.91" font-family='"Liberation Serif", serif'>1.5</text>
<text transform="translate(420.30 165.51) rotate(-90) scale(1.026 1)" font-size="10.99" font-family='"Liberation Serif", serif'>Voltage/V</text>
<text transform="translate(433.83 217.20) scale(1.063 1)" font-size="10.98" font-family='"Liberation Serif", serif'>0</text>
<text transform="translate(449.81 227.80) scale(0.913 1)" font-size="11.52" font-family='"Liberation Serif", serif'>15</text>
<text transform="translate(470.32 237.60) scale(0.953 1)" font-size="11.13" font-family='"Liberation Serif", serif'>30</text>
<text transform="translate(490.98 248.60) scale(0.968 1)" font-size="11.21" font-family='"Liberation Serif", serif'>45</text>
<text transform="translate(511.56 259.00) scale(1.010 1)" font-size="10.98" font-family='"Liberation Serif", serif'>60</text>
<text transform="translate(532.68 269.10) scale(0.979 1)" font-size="11.30" font-family='"Liberation Serif", serif'>75</text>
<text transform="translate(570.27 271.00) scale(0.973 1)" font-size="11.60" font-family='"Liberation Serif", serif'>75</text>
<text transform="translate(596.97 263.40) scale(0.951 1)" font-size="11.43" font-family='"Liberation Serif", serif'>60</text>
<text transform="translate(623.98 255.60) scale(0.987 1)" font-size="11.21" font-family='"Liberation Serif", serif'>45</text>
<text transform="translate(651.59 247.10) scale(0.985 1)" font-size="11.43" font-family='"Liberation Serif", serif'>30</text>
<text transform="translate(678.88 238.70) scale(0.943 1)" font-size="11.52" font-family='"Liberation Serif", serif'>15</text>
<text transform="translate(705.43 230.80) scale(1.021 1)" font-size="11.43" font-family='"Liberation Serif", serif'>0</text>
<text transform="translate(396.37 273.40) scale(1.003 1)" font-size="10.99" font-family='"Liberation Serif", serif'>Horizontal displacement/mm</text>
<text transform="translate(608.39 271.60) scale(1.023 1)" font-size="10.84" font-family='"Liberation Serif", serif'>Vertical displacement/mm</text>
<text transform="translate(581.61 310.62) scale(1.148 1)" font-size="15.27" font-family='"Liberation Serif", serif' font-weight="bold">(b)</text>
<defs><linearGradient id="cbg2" x1="0" y1="0" x2="0" y2="1"><stop offset="0.0000" stop-color="#800000"/><stop offset="0.0156" stop-color="#800000"/><stop offset="0.0156" stop-color="#8f0000"/><stop offset="0.0312" stop-color="#8f0000"/><stop offset="0.0312" stop-color="#9f0000"/><stop offset="0.0469" stop-color="#9f0000"/><stop offset="0.0469" stop-color="#af0000"/><stop offset="0.0625" stop-color="#af0000"/><stop offset="0.0625" stop-color="#bf0000"/><stop offset="0.0781" stop-color="#bf0000"/><stop offset="0.0781" stop-color="#cf0000"/><stop offset="0.0938" stop-color="#cf0000"/><stop offset="0.0938" stop-color="#df0000"/><stop offset="0.1094" stop-color="#df0000"/><stop offset="0.1094" stop-color="#ef0000"/><stop offset="0.1250" stop-color="#ef0000"/><stop offset="0.1250" stop-color="#ff0000"/><stop offset="0.1406" stop-color="#ff0000"/><stop offset="0.1406" stop-color="#ff1000"/><stop offset="0.1562" stop-color="#ff1000"/><stop offset="0.1562" stop-color="#ff2000"/><stop offset="0.1719" stop-color="#ff2000"/><stop offset="0.1719" stop-color="#ff3000"/><stop offset="0.1875" stop-color="#ff3000"/><stop offset="0.1875" stop-color="#ff4000"/><stop offset="0.2031" stop-color="#ff4000"/><stop offset="0.2031" stop-color="#ff5000"/><stop offset="0.2188" stop-color="#ff5000"/><stop offset="0.2188" stop-color="#ff6000"/><stop offset="0.2344" stop-color="#ff6000"/><stop offset="0.2344" stop-color="#ff7000"/><stop offset="0.2500" stop-color="#ff7000"/><stop offset="0.2500" stop-color="#ff8000"/><stop offset="0.2656" stop-color="#ff8000"/><stop offset="0.2656" stop-color="#ff8f00"/><stop offset="0.2812" stop-color="#ff8f00"/><stop offset="0.2812" stop-color="#ff9f00"/><stop offset="0.2969" stop-color="#ff9f00"/><stop offset="0.2969" stop-color="#ffaf00"/><stop offset="0.3125" stop-color="#ffaf00"/><stop offset="0.3125" stop-color="#ffbf00"/><stop offset="0.3281" stop-color="#ffbf00"/><stop offset="0.3281" stop-color="#ffcf00"/><stop offset="0.3438" stop-color="#ffcf00"/><stop offset="0.3438" stop-color="#ffdf00"/><stop offset="0.3594" stop-color="#ffdf00"/><stop offset="0.3594" stop-color="#ffef00"/><stop offset="0.3750" stop-color="#ffef00"/><stop offset="0.3750" stop-color="#ffff00"/><stop offset="0.3906" stop-color="#ffff00"/><stop offset="0.3906" stop-color="#eeff00"/><stop offset="0.4062" stop-color="#eeff00"/><stop offset="0.4062" stop-color="#dbff00"/><stop offset="0.4219" stop-color="#dbff00"/><stop offset="0.4219" stop-color="#c4ff00"/><stop offset="0.4375" stop-color="#c4ff00"/><stop offset="0.4375" stop-color="#aaff00"/><stop offset="0.4531" stop-color="#aaff00"/><stop offset="0.4531" stop-color="#8bff00"/><stop offset="0.4688" stop-color="#8bff00"/><stop offset="0.4688" stop-color="#6bff08"/><stop offset="0.4844" stop-color="#6bff08"/><stop offset="0.4844" stop-color="#52ff21"/><stop offset="0.5000" stop-color="#52ff21"/><stop offset="0.5000" stop-color="#39ff39"/><stop offset="0.5156" stop-color="#39ff39"/><stop offset="0.5156" stop-color="#21ff52"/><stop offset="0.5312" stop-color="#21ff52"/><stop offset="0.5312" stop-color="#08ff6b"/><stop offset="0.5469" stop-color="#08ff6b"/><stop offset="0.5469" stop-color="#00ff8b"/><stop offset="0.5625" stop-color="#00ff8b"/><stop offset="0.5625" stop-color="#00ffaa"/><stop offset="0.5781" stop-color="#00ffaa"/><stop offset="0.5781" stop-color="#00ffc4"/><stop offset="0.5938" stop-color="#00ffc4"/><stop offset="0.5938" stop-color="#00ffdb"/><stop offset="0.6094" stop-color="#00ffdb"/><stop offset="0.6094" stop-color="#00ffee"/><stop offset="0.6250" stop-color="#00ffee"/><stop offset="0.6250" stop-color="#00ffff"/><stop offset="0.6406" stop-color="#00ffff"/><stop offset="0.6406" stop-color="#00efff"/><stop offset="0.6562" stop-color="#00efff"/><stop offset="0.6562" stop-color="#00dfff"/><stop offset="0.6719" stop-color="#00dfff"/><stop offset="0.6719" stop-color="#00cfff"/><stop offset="0.6875" stop-color="#00cfff"/><stop offset="0.6875" stop-color="#00bfff"/><stop offset="0.7031" stop-color="#00bfff"/><stop offset="0.7031" stop-color="#00afff"/><stop offset="0.7188" stop-color="#00afff"/><stop offset="0.7188" stop-color="#009fff"/><stop offset="0.7344" stop-color="#009fff"/><stop offset="0.7344" stop-color="#008fff"/><stop offset="0.7500" stop-color="#008fff"/><stop offset="0.7500" stop-color="#0080ff"/><stop offset="0.7656" stop-color="#0080ff"/><stop offset="0.7656" stop-color="#0070ff"/><stop offset="0.7812" stop-color="#0070ff"/><stop offset="0.7812" stop-color="#0060ff"/><stop offset="0.7969" stop-color="#0060ff"/><stop offset="0.7969" stop-color="#0050ff"/><stop offset="0.8125" stop-color="#0050ff"/><stop offset="0.8125" stop-color="#0040ff"/><stop offset="0.8281" stop-color="#0040ff"/><stop offset="0.8281" stop-color="#0030ff"/><stop offset="0.8438" stop-color="#0030ff"/><stop offset="0.8438" stop-color="#0020ff"/><stop offset="0.8594" stop-color="#0020ff"/><stop offset="0.8594" stop-color="#0010ff"/><stop offset="0.8750" stop-color="#0010ff"/><stop offset="0.8750" stop-color="#0000ff"/><stop offset="0.8906" stop-color="#0000ff"/><stop offset="0.8906" stop-color="#0000ef"/><stop offset="0.9062" stop-color="#0000ef"/><stop offset="0.9062" stop-color="#0000df"/><stop offset="0.9219" stop-color="#0000df"/><stop offset="0.9219" stop-color="#0000cf"/><stop offset="0.9375" stop-color="#0000cf"/><stop offset="0.9375" stop-color="#0000bf"/><stop offset="0.9531" stop-color="#0000bf"/><stop offset="0.9531" stop-color="#0000af"/><stop offset="0.9688" stop-color="#0000af"/><stop offset="0.9688" stop-color="#00009f"/><stop offset="0.9844" stop-color="#00009f"/><stop offset="0.9844" stop-color="#00008f"/><stop offset="1.0000" stop-color="#00008f"/></linearGradient></defs>
<rect x="710.6" y="39" width="13.1" height="221.6" fill="url(#cbg2)" stroke="#333" stroke-width="0.5"/>
<text transform="translate(725.35 248.71) scale(0.973 1)" font-size="11.58" font-family='"Liberation Serif", serif'>0.2</text>
<text transform="translate(725.35 226.55) scale(0.973 1)" font-size="11.58" font-family='"Liberation Serif", serif'>0.4</text>
<text transform="translate(725.35 204.39) scale(0.973 1)" font-size="11.58" font-family='"Liberation Serif", serif'>0.6</text>
<text transform="translate(725.35 182.23) scale(0.973 1)" font-size="11.58" font-family='"Liberation Serif", serif'>0.8</text>
<text transform="translate(724.84 160.07) scale(0.966 1)" font-size="11.67" font-family='"Liberation Serif", serif'>1</text>
<text transform="translate(724.84 137.91) scale(0.966 1)" font-size="11.67" font-family='"Liberation Serif", serif'>1.2</text>
<text transform="translate(724.84 115.75) scale(0.966 1)" font-size="11.67" font-family='"Liberation Serif", serif'>1.4</text>
<text transform="translate(724.84 93.59) scale(0.966 1)" font-size="11.67" font-family='"Liberation Serif", serif'>1.6</text>
<text transform="translate(724.84 71.43) scale(0.973 1)" font-size="11.58" font-family='"Liberation Serif", serif'>1.8</text>
<text transform="translate(725.29 49.27) scale(0.966 1)" font-size="11.67" font-family='"Liberation Serif", serif'>2</text>
<path class="ax" d="M723.7 244.3h-1.5M723.7 222.2h-1.5M723.7 200h-1.5M723.7 177.8h-1.5M723.7 155.7h-1.5M723.7 133.5h-1.5M723.7 111.4h-1.5M723.7 89.2h-1.5M723.7 67h-1.5M723.7 44.9h-1.5"/>
</svg></body></html>
